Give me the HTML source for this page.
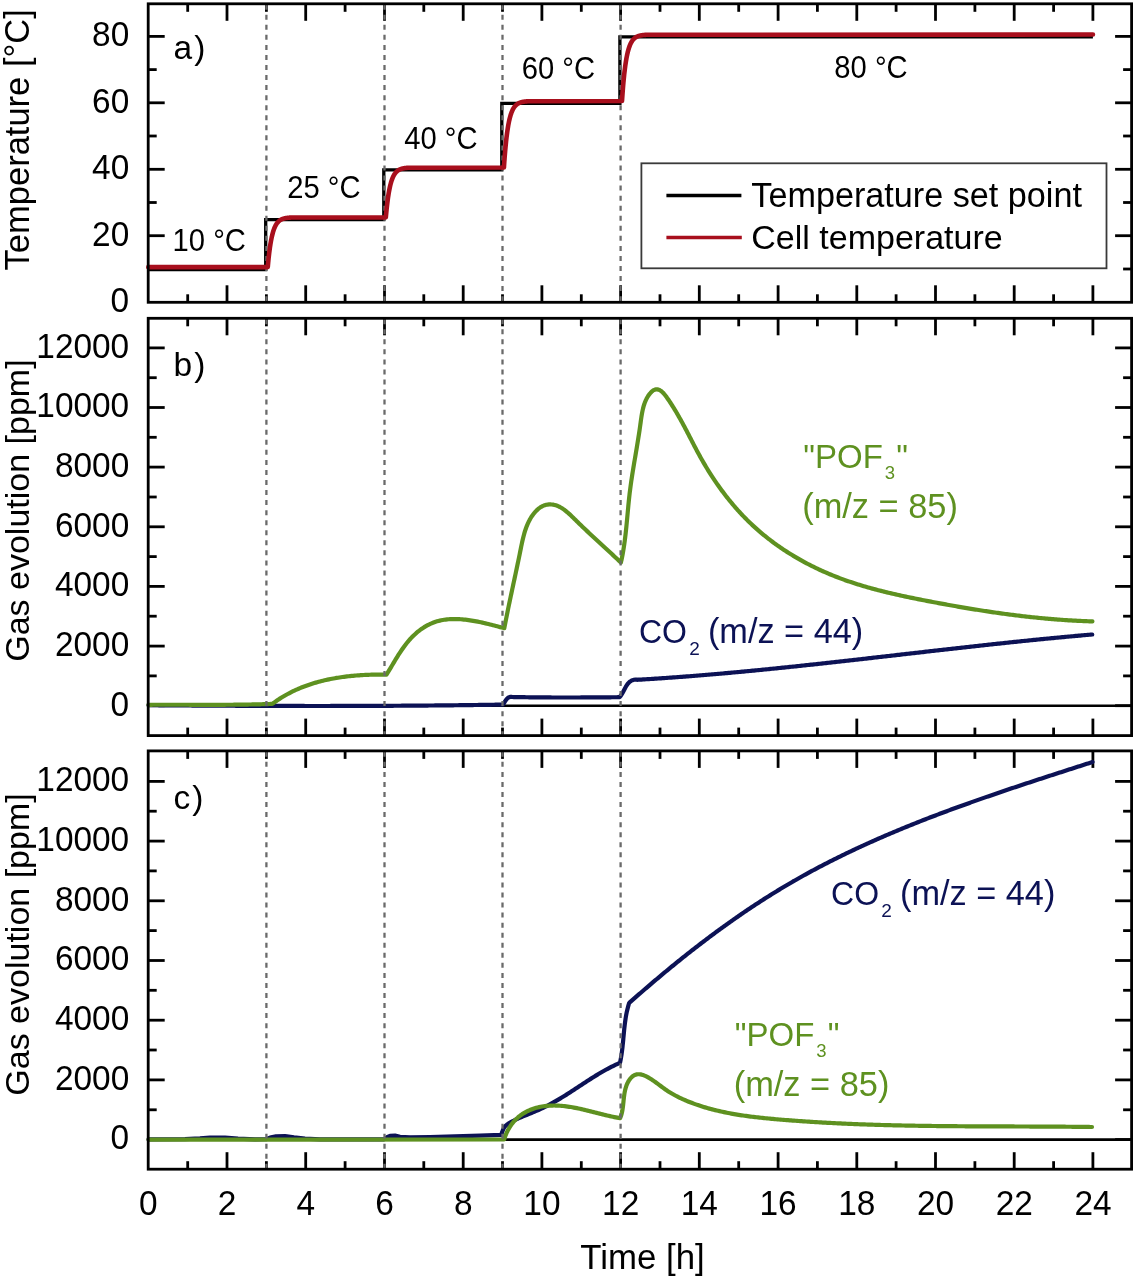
<!DOCTYPE html><html><head><meta charset="utf-8"><style>html,body{margin:0;padding:0;background:#fff}svg{display:block;filter:blur(0.5px)}text{font-family:"Liberation Sans",sans-serif}</style></head><body>
<svg width="1136" height="1280" viewBox="0 0 1136 1280">
<rect width="1136" height="1280" fill="#fff"/>
<line x1="187.7" y1="302.3" x2="187.7" y2="294.3" stroke="#000" stroke-width="2.8"/>
<line x1="187.7" y1="3.8" x2="187.7" y2="11.8" stroke="#000" stroke-width="2.8"/>
<line x1="227.0" y1="302.3" x2="227.0" y2="285.3" stroke="#000" stroke-width="2.8"/>
<line x1="227.0" y1="3.8" x2="227.0" y2="20.8" stroke="#000" stroke-width="2.8"/>
<line x1="266.4" y1="302.3" x2="266.4" y2="294.3" stroke="#000" stroke-width="2.8"/>
<line x1="266.4" y1="3.8" x2="266.4" y2="11.8" stroke="#000" stroke-width="2.8"/>
<line x1="305.7" y1="302.3" x2="305.7" y2="285.3" stroke="#000" stroke-width="2.8"/>
<line x1="305.7" y1="3.8" x2="305.7" y2="20.8" stroke="#000" stroke-width="2.8"/>
<line x1="345.1" y1="302.3" x2="345.1" y2="294.3" stroke="#000" stroke-width="2.8"/>
<line x1="345.1" y1="3.8" x2="345.1" y2="11.8" stroke="#000" stroke-width="2.8"/>
<line x1="384.5" y1="302.3" x2="384.5" y2="285.3" stroke="#000" stroke-width="2.8"/>
<line x1="384.5" y1="3.8" x2="384.5" y2="20.8" stroke="#000" stroke-width="2.8"/>
<line x1="423.8" y1="302.3" x2="423.8" y2="294.3" stroke="#000" stroke-width="2.8"/>
<line x1="423.8" y1="3.8" x2="423.8" y2="11.8" stroke="#000" stroke-width="2.8"/>
<line x1="463.2" y1="302.3" x2="463.2" y2="285.3" stroke="#000" stroke-width="2.8"/>
<line x1="463.2" y1="3.8" x2="463.2" y2="20.8" stroke="#000" stroke-width="2.8"/>
<line x1="502.5" y1="302.3" x2="502.5" y2="294.3" stroke="#000" stroke-width="2.8"/>
<line x1="502.5" y1="3.8" x2="502.5" y2="11.8" stroke="#000" stroke-width="2.8"/>
<line x1="541.9" y1="302.3" x2="541.9" y2="285.3" stroke="#000" stroke-width="2.8"/>
<line x1="541.9" y1="3.8" x2="541.9" y2="20.8" stroke="#000" stroke-width="2.8"/>
<line x1="581.3" y1="302.3" x2="581.3" y2="294.3" stroke="#000" stroke-width="2.8"/>
<line x1="581.3" y1="3.8" x2="581.3" y2="11.8" stroke="#000" stroke-width="2.8"/>
<line x1="620.6" y1="302.3" x2="620.6" y2="285.3" stroke="#000" stroke-width="2.8"/>
<line x1="620.6" y1="3.8" x2="620.6" y2="20.8" stroke="#000" stroke-width="2.8"/>
<line x1="660.0" y1="302.3" x2="660.0" y2="294.3" stroke="#000" stroke-width="2.8"/>
<line x1="660.0" y1="3.8" x2="660.0" y2="11.8" stroke="#000" stroke-width="2.8"/>
<line x1="699.3" y1="302.3" x2="699.3" y2="285.3" stroke="#000" stroke-width="2.8"/>
<line x1="699.3" y1="3.8" x2="699.3" y2="20.8" stroke="#000" stroke-width="2.8"/>
<line x1="738.7" y1="302.3" x2="738.7" y2="294.3" stroke="#000" stroke-width="2.8"/>
<line x1="738.7" y1="3.8" x2="738.7" y2="11.8" stroke="#000" stroke-width="2.8"/>
<line x1="778.1" y1="302.3" x2="778.1" y2="285.3" stroke="#000" stroke-width="2.8"/>
<line x1="778.1" y1="3.8" x2="778.1" y2="20.8" stroke="#000" stroke-width="2.8"/>
<line x1="817.4" y1="302.3" x2="817.4" y2="294.3" stroke="#000" stroke-width="2.8"/>
<line x1="817.4" y1="3.8" x2="817.4" y2="11.8" stroke="#000" stroke-width="2.8"/>
<line x1="856.8" y1="302.3" x2="856.8" y2="285.3" stroke="#000" stroke-width="2.8"/>
<line x1="856.8" y1="3.8" x2="856.8" y2="20.8" stroke="#000" stroke-width="2.8"/>
<line x1="896.1" y1="302.3" x2="896.1" y2="294.3" stroke="#000" stroke-width="2.8"/>
<line x1="896.1" y1="3.8" x2="896.1" y2="11.8" stroke="#000" stroke-width="2.8"/>
<line x1="935.5" y1="302.3" x2="935.5" y2="285.3" stroke="#000" stroke-width="2.8"/>
<line x1="935.5" y1="3.8" x2="935.5" y2="20.8" stroke="#000" stroke-width="2.8"/>
<line x1="974.9" y1="302.3" x2="974.9" y2="294.3" stroke="#000" stroke-width="2.8"/>
<line x1="974.9" y1="3.8" x2="974.9" y2="11.8" stroke="#000" stroke-width="2.8"/>
<line x1="1014.2" y1="302.3" x2="1014.2" y2="285.3" stroke="#000" stroke-width="2.8"/>
<line x1="1014.2" y1="3.8" x2="1014.2" y2="20.8" stroke="#000" stroke-width="2.8"/>
<line x1="1053.6" y1="302.3" x2="1053.6" y2="294.3" stroke="#000" stroke-width="2.8"/>
<line x1="1053.6" y1="3.8" x2="1053.6" y2="11.8" stroke="#000" stroke-width="2.8"/>
<line x1="1092.9" y1="302.3" x2="1092.9" y2="285.3" stroke="#000" stroke-width="2.8"/>
<line x1="1092.9" y1="3.8" x2="1092.9" y2="20.8" stroke="#000" stroke-width="2.8"/>
<line x1="148.2" y1="235.7" x2="164.7" y2="235.7" stroke="#000" stroke-width="2.8"/>
<line x1="1131.6" y1="235.7" x2="1115.1" y2="235.7" stroke="#000" stroke-width="2.8"/>
<line x1="148.2" y1="169.3" x2="164.7" y2="169.3" stroke="#000" stroke-width="2.8"/>
<line x1="1131.6" y1="169.3" x2="1115.1" y2="169.3" stroke="#000" stroke-width="2.8"/>
<line x1="148.2" y1="102.8" x2="164.7" y2="102.8" stroke="#000" stroke-width="2.8"/>
<line x1="1131.6" y1="102.8" x2="1115.1" y2="102.8" stroke="#000" stroke-width="2.8"/>
<line x1="148.2" y1="36.4" x2="164.7" y2="36.4" stroke="#000" stroke-width="2.8"/>
<line x1="1131.6" y1="36.4" x2="1115.1" y2="36.4" stroke="#000" stroke-width="2.8"/>
<line x1="148.2" y1="269.0" x2="156.7" y2="269.0" stroke="#000" stroke-width="2.8"/>
<line x1="1131.6" y1="269.0" x2="1123.1" y2="269.0" stroke="#000" stroke-width="2.8"/>
<line x1="148.2" y1="202.5" x2="156.7" y2="202.5" stroke="#000" stroke-width="2.8"/>
<line x1="1131.6" y1="202.5" x2="1123.1" y2="202.5" stroke="#000" stroke-width="2.8"/>
<line x1="148.2" y1="136.0" x2="156.7" y2="136.0" stroke="#000" stroke-width="2.8"/>
<line x1="1131.6" y1="136.0" x2="1123.1" y2="136.0" stroke="#000" stroke-width="2.8"/>
<line x1="148.2" y1="69.6" x2="156.7" y2="69.6" stroke="#000" stroke-width="2.8"/>
<line x1="1131.6" y1="69.6" x2="1123.1" y2="69.6" stroke="#000" stroke-width="2.8"/>
<line x1="187.7" y1="735.6" x2="187.7" y2="727.6" stroke="#000" stroke-width="2.8"/>
<line x1="187.7" y1="318.3" x2="187.7" y2="326.3" stroke="#000" stroke-width="2.8"/>
<line x1="227.0" y1="735.6" x2="227.0" y2="718.6" stroke="#000" stroke-width="2.8"/>
<line x1="227.0" y1="318.3" x2="227.0" y2="335.3" stroke="#000" stroke-width="2.8"/>
<line x1="266.4" y1="735.6" x2="266.4" y2="727.6" stroke="#000" stroke-width="2.8"/>
<line x1="266.4" y1="318.3" x2="266.4" y2="326.3" stroke="#000" stroke-width="2.8"/>
<line x1="305.7" y1="735.6" x2="305.7" y2="718.6" stroke="#000" stroke-width="2.8"/>
<line x1="305.7" y1="318.3" x2="305.7" y2="335.3" stroke="#000" stroke-width="2.8"/>
<line x1="345.1" y1="735.6" x2="345.1" y2="727.6" stroke="#000" stroke-width="2.8"/>
<line x1="345.1" y1="318.3" x2="345.1" y2="326.3" stroke="#000" stroke-width="2.8"/>
<line x1="384.5" y1="735.6" x2="384.5" y2="718.6" stroke="#000" stroke-width="2.8"/>
<line x1="384.5" y1="318.3" x2="384.5" y2="335.3" stroke="#000" stroke-width="2.8"/>
<line x1="423.8" y1="735.6" x2="423.8" y2="727.6" stroke="#000" stroke-width="2.8"/>
<line x1="423.8" y1="318.3" x2="423.8" y2="326.3" stroke="#000" stroke-width="2.8"/>
<line x1="463.2" y1="735.6" x2="463.2" y2="718.6" stroke="#000" stroke-width="2.8"/>
<line x1="463.2" y1="318.3" x2="463.2" y2="335.3" stroke="#000" stroke-width="2.8"/>
<line x1="502.5" y1="735.6" x2="502.5" y2="727.6" stroke="#000" stroke-width="2.8"/>
<line x1="502.5" y1="318.3" x2="502.5" y2="326.3" stroke="#000" stroke-width="2.8"/>
<line x1="541.9" y1="735.6" x2="541.9" y2="718.6" stroke="#000" stroke-width="2.8"/>
<line x1="541.9" y1="318.3" x2="541.9" y2="335.3" stroke="#000" stroke-width="2.8"/>
<line x1="581.3" y1="735.6" x2="581.3" y2="727.6" stroke="#000" stroke-width="2.8"/>
<line x1="581.3" y1="318.3" x2="581.3" y2="326.3" stroke="#000" stroke-width="2.8"/>
<line x1="620.6" y1="735.6" x2="620.6" y2="718.6" stroke="#000" stroke-width="2.8"/>
<line x1="620.6" y1="318.3" x2="620.6" y2="335.3" stroke="#000" stroke-width="2.8"/>
<line x1="660.0" y1="735.6" x2="660.0" y2="727.6" stroke="#000" stroke-width="2.8"/>
<line x1="660.0" y1="318.3" x2="660.0" y2="326.3" stroke="#000" stroke-width="2.8"/>
<line x1="699.3" y1="735.6" x2="699.3" y2="718.6" stroke="#000" stroke-width="2.8"/>
<line x1="699.3" y1="318.3" x2="699.3" y2="335.3" stroke="#000" stroke-width="2.8"/>
<line x1="738.7" y1="735.6" x2="738.7" y2="727.6" stroke="#000" stroke-width="2.8"/>
<line x1="738.7" y1="318.3" x2="738.7" y2="326.3" stroke="#000" stroke-width="2.8"/>
<line x1="778.1" y1="735.6" x2="778.1" y2="718.6" stroke="#000" stroke-width="2.8"/>
<line x1="778.1" y1="318.3" x2="778.1" y2="335.3" stroke="#000" stroke-width="2.8"/>
<line x1="817.4" y1="735.6" x2="817.4" y2="727.6" stroke="#000" stroke-width="2.8"/>
<line x1="817.4" y1="318.3" x2="817.4" y2="326.3" stroke="#000" stroke-width="2.8"/>
<line x1="856.8" y1="735.6" x2="856.8" y2="718.6" stroke="#000" stroke-width="2.8"/>
<line x1="856.8" y1="318.3" x2="856.8" y2="335.3" stroke="#000" stroke-width="2.8"/>
<line x1="896.1" y1="735.6" x2="896.1" y2="727.6" stroke="#000" stroke-width="2.8"/>
<line x1="896.1" y1="318.3" x2="896.1" y2="326.3" stroke="#000" stroke-width="2.8"/>
<line x1="935.5" y1="735.6" x2="935.5" y2="718.6" stroke="#000" stroke-width="2.8"/>
<line x1="935.5" y1="318.3" x2="935.5" y2="335.3" stroke="#000" stroke-width="2.8"/>
<line x1="974.9" y1="735.6" x2="974.9" y2="727.6" stroke="#000" stroke-width="2.8"/>
<line x1="974.9" y1="318.3" x2="974.9" y2="326.3" stroke="#000" stroke-width="2.8"/>
<line x1="1014.2" y1="735.6" x2="1014.2" y2="718.6" stroke="#000" stroke-width="2.8"/>
<line x1="1014.2" y1="318.3" x2="1014.2" y2="335.3" stroke="#000" stroke-width="2.8"/>
<line x1="1053.6" y1="735.6" x2="1053.6" y2="727.6" stroke="#000" stroke-width="2.8"/>
<line x1="1053.6" y1="318.3" x2="1053.6" y2="326.3" stroke="#000" stroke-width="2.8"/>
<line x1="1092.9" y1="735.6" x2="1092.9" y2="718.6" stroke="#000" stroke-width="2.8"/>
<line x1="1092.9" y1="318.3" x2="1092.9" y2="335.3" stroke="#000" stroke-width="2.8"/>
<line x1="148.2" y1="705.7" x2="164.7" y2="705.7" stroke="#000" stroke-width="2.8"/>
<line x1="1131.6" y1="705.7" x2="1115.1" y2="705.7" stroke="#000" stroke-width="2.8"/>
<line x1="148.2" y1="646.1" x2="164.7" y2="646.1" stroke="#000" stroke-width="2.8"/>
<line x1="1131.6" y1="646.1" x2="1115.1" y2="646.1" stroke="#000" stroke-width="2.8"/>
<line x1="148.2" y1="586.4" x2="164.7" y2="586.4" stroke="#000" stroke-width="2.8"/>
<line x1="1131.6" y1="586.4" x2="1115.1" y2="586.4" stroke="#000" stroke-width="2.8"/>
<line x1="148.2" y1="526.8" x2="164.7" y2="526.8" stroke="#000" stroke-width="2.8"/>
<line x1="1131.6" y1="526.8" x2="1115.1" y2="526.8" stroke="#000" stroke-width="2.8"/>
<line x1="148.2" y1="467.1" x2="164.7" y2="467.1" stroke="#000" stroke-width="2.8"/>
<line x1="1131.6" y1="467.1" x2="1115.1" y2="467.1" stroke="#000" stroke-width="2.8"/>
<line x1="148.2" y1="407.5" x2="164.7" y2="407.5" stroke="#000" stroke-width="2.8"/>
<line x1="1131.6" y1="407.5" x2="1115.1" y2="407.5" stroke="#000" stroke-width="2.8"/>
<line x1="148.2" y1="347.9" x2="164.7" y2="347.9" stroke="#000" stroke-width="2.8"/>
<line x1="1131.6" y1="347.9" x2="1115.1" y2="347.9" stroke="#000" stroke-width="2.8"/>
<line x1="148.2" y1="675.9" x2="156.7" y2="675.9" stroke="#000" stroke-width="2.8"/>
<line x1="1131.6" y1="675.9" x2="1123.1" y2="675.9" stroke="#000" stroke-width="2.8"/>
<line x1="148.2" y1="616.2" x2="156.7" y2="616.2" stroke="#000" stroke-width="2.8"/>
<line x1="1131.6" y1="616.2" x2="1123.1" y2="616.2" stroke="#000" stroke-width="2.8"/>
<line x1="148.2" y1="556.6" x2="156.7" y2="556.6" stroke="#000" stroke-width="2.8"/>
<line x1="1131.6" y1="556.6" x2="1123.1" y2="556.6" stroke="#000" stroke-width="2.8"/>
<line x1="148.2" y1="497.0" x2="156.7" y2="497.0" stroke="#000" stroke-width="2.8"/>
<line x1="1131.6" y1="497.0" x2="1123.1" y2="497.0" stroke="#000" stroke-width="2.8"/>
<line x1="148.2" y1="437.3" x2="156.7" y2="437.3" stroke="#000" stroke-width="2.8"/>
<line x1="1131.6" y1="437.3" x2="1123.1" y2="437.3" stroke="#000" stroke-width="2.8"/>
<line x1="148.2" y1="377.7" x2="156.7" y2="377.7" stroke="#000" stroke-width="2.8"/>
<line x1="1131.6" y1="377.7" x2="1123.1" y2="377.7" stroke="#000" stroke-width="2.8"/>
<line x1="187.7" y1="1169.2" x2="187.7" y2="1161.2" stroke="#000" stroke-width="2.8"/>
<line x1="187.7" y1="750.9" x2="187.7" y2="758.9" stroke="#000" stroke-width="2.8"/>
<line x1="227.0" y1="1169.2" x2="227.0" y2="1152.2" stroke="#000" stroke-width="2.8"/>
<line x1="227.0" y1="750.9" x2="227.0" y2="767.9" stroke="#000" stroke-width="2.8"/>
<line x1="266.4" y1="1169.2" x2="266.4" y2="1161.2" stroke="#000" stroke-width="2.8"/>
<line x1="266.4" y1="750.9" x2="266.4" y2="758.9" stroke="#000" stroke-width="2.8"/>
<line x1="305.7" y1="1169.2" x2="305.7" y2="1152.2" stroke="#000" stroke-width="2.8"/>
<line x1="305.7" y1="750.9" x2="305.7" y2="767.9" stroke="#000" stroke-width="2.8"/>
<line x1="345.1" y1="1169.2" x2="345.1" y2="1161.2" stroke="#000" stroke-width="2.8"/>
<line x1="345.1" y1="750.9" x2="345.1" y2="758.9" stroke="#000" stroke-width="2.8"/>
<line x1="384.5" y1="1169.2" x2="384.5" y2="1152.2" stroke="#000" stroke-width="2.8"/>
<line x1="384.5" y1="750.9" x2="384.5" y2="767.9" stroke="#000" stroke-width="2.8"/>
<line x1="423.8" y1="1169.2" x2="423.8" y2="1161.2" stroke="#000" stroke-width="2.8"/>
<line x1="423.8" y1="750.9" x2="423.8" y2="758.9" stroke="#000" stroke-width="2.8"/>
<line x1="463.2" y1="1169.2" x2="463.2" y2="1152.2" stroke="#000" stroke-width="2.8"/>
<line x1="463.2" y1="750.9" x2="463.2" y2="767.9" stroke="#000" stroke-width="2.8"/>
<line x1="502.5" y1="1169.2" x2="502.5" y2="1161.2" stroke="#000" stroke-width="2.8"/>
<line x1="502.5" y1="750.9" x2="502.5" y2="758.9" stroke="#000" stroke-width="2.8"/>
<line x1="541.9" y1="1169.2" x2="541.9" y2="1152.2" stroke="#000" stroke-width="2.8"/>
<line x1="541.9" y1="750.9" x2="541.9" y2="767.9" stroke="#000" stroke-width="2.8"/>
<line x1="581.3" y1="1169.2" x2="581.3" y2="1161.2" stroke="#000" stroke-width="2.8"/>
<line x1="581.3" y1="750.9" x2="581.3" y2="758.9" stroke="#000" stroke-width="2.8"/>
<line x1="620.6" y1="1169.2" x2="620.6" y2="1152.2" stroke="#000" stroke-width="2.8"/>
<line x1="620.6" y1="750.9" x2="620.6" y2="767.9" stroke="#000" stroke-width="2.8"/>
<line x1="660.0" y1="1169.2" x2="660.0" y2="1161.2" stroke="#000" stroke-width="2.8"/>
<line x1="660.0" y1="750.9" x2="660.0" y2="758.9" stroke="#000" stroke-width="2.8"/>
<line x1="699.3" y1="1169.2" x2="699.3" y2="1152.2" stroke="#000" stroke-width="2.8"/>
<line x1="699.3" y1="750.9" x2="699.3" y2="767.9" stroke="#000" stroke-width="2.8"/>
<line x1="738.7" y1="1169.2" x2="738.7" y2="1161.2" stroke="#000" stroke-width="2.8"/>
<line x1="738.7" y1="750.9" x2="738.7" y2="758.9" stroke="#000" stroke-width="2.8"/>
<line x1="778.1" y1="1169.2" x2="778.1" y2="1152.2" stroke="#000" stroke-width="2.8"/>
<line x1="778.1" y1="750.9" x2="778.1" y2="767.9" stroke="#000" stroke-width="2.8"/>
<line x1="817.4" y1="1169.2" x2="817.4" y2="1161.2" stroke="#000" stroke-width="2.8"/>
<line x1="817.4" y1="750.9" x2="817.4" y2="758.9" stroke="#000" stroke-width="2.8"/>
<line x1="856.8" y1="1169.2" x2="856.8" y2="1152.2" stroke="#000" stroke-width="2.8"/>
<line x1="856.8" y1="750.9" x2="856.8" y2="767.9" stroke="#000" stroke-width="2.8"/>
<line x1="896.1" y1="1169.2" x2="896.1" y2="1161.2" stroke="#000" stroke-width="2.8"/>
<line x1="896.1" y1="750.9" x2="896.1" y2="758.9" stroke="#000" stroke-width="2.8"/>
<line x1="935.5" y1="1169.2" x2="935.5" y2="1152.2" stroke="#000" stroke-width="2.8"/>
<line x1="935.5" y1="750.9" x2="935.5" y2="767.9" stroke="#000" stroke-width="2.8"/>
<line x1="974.9" y1="1169.2" x2="974.9" y2="1161.2" stroke="#000" stroke-width="2.8"/>
<line x1="974.9" y1="750.9" x2="974.9" y2="758.9" stroke="#000" stroke-width="2.8"/>
<line x1="1014.2" y1="1169.2" x2="1014.2" y2="1152.2" stroke="#000" stroke-width="2.8"/>
<line x1="1014.2" y1="750.9" x2="1014.2" y2="767.9" stroke="#000" stroke-width="2.8"/>
<line x1="1053.6" y1="1169.2" x2="1053.6" y2="1161.2" stroke="#000" stroke-width="2.8"/>
<line x1="1053.6" y1="750.9" x2="1053.6" y2="758.9" stroke="#000" stroke-width="2.8"/>
<line x1="1092.9" y1="1169.2" x2="1092.9" y2="1152.2" stroke="#000" stroke-width="2.8"/>
<line x1="1092.9" y1="750.9" x2="1092.9" y2="767.9" stroke="#000" stroke-width="2.8"/>
<line x1="148.2" y1="1139.6" x2="164.7" y2="1139.6" stroke="#000" stroke-width="2.8"/>
<line x1="1131.6" y1="1139.6" x2="1115.1" y2="1139.6" stroke="#000" stroke-width="2.8"/>
<line x1="148.2" y1="1079.9" x2="164.7" y2="1079.9" stroke="#000" stroke-width="2.8"/>
<line x1="1131.6" y1="1079.9" x2="1115.1" y2="1079.9" stroke="#000" stroke-width="2.8"/>
<line x1="148.2" y1="1020.2" x2="164.7" y2="1020.2" stroke="#000" stroke-width="2.8"/>
<line x1="1131.6" y1="1020.2" x2="1115.1" y2="1020.2" stroke="#000" stroke-width="2.8"/>
<line x1="148.2" y1="960.5" x2="164.7" y2="960.5" stroke="#000" stroke-width="2.8"/>
<line x1="1131.6" y1="960.5" x2="1115.1" y2="960.5" stroke="#000" stroke-width="2.8"/>
<line x1="148.2" y1="900.8" x2="164.7" y2="900.8" stroke="#000" stroke-width="2.8"/>
<line x1="1131.6" y1="900.8" x2="1115.1" y2="900.8" stroke="#000" stroke-width="2.8"/>
<line x1="148.2" y1="841.1" x2="164.7" y2="841.1" stroke="#000" stroke-width="2.8"/>
<line x1="1131.6" y1="841.1" x2="1115.1" y2="841.1" stroke="#000" stroke-width="2.8"/>
<line x1="148.2" y1="781.4" x2="164.7" y2="781.4" stroke="#000" stroke-width="2.8"/>
<line x1="1131.6" y1="781.4" x2="1115.1" y2="781.4" stroke="#000" stroke-width="2.8"/>
<line x1="148.2" y1="1109.8" x2="156.7" y2="1109.8" stroke="#000" stroke-width="2.8"/>
<line x1="1131.6" y1="1109.8" x2="1123.1" y2="1109.8" stroke="#000" stroke-width="2.8"/>
<line x1="148.2" y1="1050.0" x2="156.7" y2="1050.0" stroke="#000" stroke-width="2.8"/>
<line x1="1131.6" y1="1050.0" x2="1123.1" y2="1050.0" stroke="#000" stroke-width="2.8"/>
<line x1="148.2" y1="990.3" x2="156.7" y2="990.3" stroke="#000" stroke-width="2.8"/>
<line x1="1131.6" y1="990.3" x2="1123.1" y2="990.3" stroke="#000" stroke-width="2.8"/>
<line x1="148.2" y1="930.6" x2="156.7" y2="930.6" stroke="#000" stroke-width="2.8"/>
<line x1="1131.6" y1="930.6" x2="1123.1" y2="930.6" stroke="#000" stroke-width="2.8"/>
<line x1="148.2" y1="870.9" x2="156.7" y2="870.9" stroke="#000" stroke-width="2.8"/>
<line x1="1131.6" y1="870.9" x2="1123.1" y2="870.9" stroke="#000" stroke-width="2.8"/>
<line x1="148.2" y1="811.2" x2="156.7" y2="811.2" stroke="#000" stroke-width="2.8"/>
<line x1="1131.6" y1="811.2" x2="1123.1" y2="811.2" stroke="#000" stroke-width="2.8"/>
<line x1="148.2" y1="705.7" x2="1131.6" y2="705.7" stroke="#000" stroke-width="2.6"/>
<line x1="148.2" y1="1139.6" x2="1131.6" y2="1139.6" stroke="#000" stroke-width="2.6"/>
<text transform="translate(129.20,312.00) scale(1,1.04)" font-size="33.4" text-anchor="end">0</text>
<text transform="translate(129.20,245.54) scale(1,1.04)" font-size="33.4" text-anchor="end">20</text>
<text transform="translate(129.20,179.08) scale(1,1.04)" font-size="33.4" text-anchor="end">40</text>
<text transform="translate(129.20,112.62) scale(1,1.04)" font-size="33.4" text-anchor="end">60</text>
<text transform="translate(129.20,46.16) scale(1,1.04)" font-size="33.4" text-anchor="end">80</text>
<text transform="translate(129.20,715.50) scale(1,1.04)" font-size="33.4" text-anchor="end">0</text>
<text transform="translate(129.20,655.86) scale(1,1.04)" font-size="33.4" text-anchor="end">2000</text>
<text transform="translate(129.20,596.22) scale(1,1.04)" font-size="33.4" text-anchor="end">4000</text>
<text transform="translate(129.20,536.58) scale(1,1.04)" font-size="33.4" text-anchor="end">6000</text>
<text transform="translate(129.20,476.94) scale(1,1.04)" font-size="33.4" text-anchor="end">8000</text>
<text transform="translate(129.20,417.30) scale(1,1.04)" font-size="33.4" text-anchor="end">10000</text>
<text transform="translate(129.20,357.66) scale(1,1.04)" font-size="33.4" text-anchor="end">12000</text>
<text transform="translate(129.20,1149.40) scale(1,1.04)" font-size="33.4" text-anchor="end">0</text>
<text transform="translate(129.20,1089.70) scale(1,1.04)" font-size="33.4" text-anchor="end">2000</text>
<text transform="translate(129.20,1030.00) scale(1,1.04)" font-size="33.4" text-anchor="end">4000</text>
<text transform="translate(129.20,970.30) scale(1,1.04)" font-size="33.4" text-anchor="end">6000</text>
<text transform="translate(129.20,910.60) scale(1,1.04)" font-size="33.4" text-anchor="end">8000</text>
<text transform="translate(129.20,850.90) scale(1,1.04)" font-size="33.4" text-anchor="end">10000</text>
<text transform="translate(129.20,791.20) scale(1,1.04)" font-size="33.4" text-anchor="end">12000</text>
<text transform="translate(148.30,1214.80) scale(1,1.04)" font-size="33.4" text-anchor="middle">0</text>
<text transform="translate(227.02,1214.80) scale(1,1.04)" font-size="33.4" text-anchor="middle">2</text>
<text transform="translate(305.74,1214.80) scale(1,1.04)" font-size="33.4" text-anchor="middle">4</text>
<text transform="translate(384.46,1214.80) scale(1,1.04)" font-size="33.4" text-anchor="middle">6</text>
<text transform="translate(463.18,1214.80) scale(1,1.04)" font-size="33.4" text-anchor="middle">8</text>
<text transform="translate(541.90,1214.80) scale(1,1.04)" font-size="33.4" text-anchor="middle">10</text>
<text transform="translate(620.62,1214.80) scale(1,1.04)" font-size="33.4" text-anchor="middle">12</text>
<text transform="translate(699.34,1214.80) scale(1,1.04)" font-size="33.4" text-anchor="middle">14</text>
<text transform="translate(778.06,1214.80) scale(1,1.04)" font-size="33.4" text-anchor="middle">16</text>
<text transform="translate(856.78,1214.80) scale(1,1.04)" font-size="33.4" text-anchor="middle">18</text>
<text transform="translate(935.50,1214.80) scale(1,1.04)" font-size="33.4" text-anchor="middle">20</text>
<text transform="translate(1014.22,1214.80) scale(1,1.04)" font-size="33.4" text-anchor="middle">22</text>
<text transform="translate(1092.94,1214.80) scale(1,1.04)" font-size="33.4" text-anchor="middle">24</text>
<text x="642.50" y="1268.50" font-size="34.8" text-anchor="middle">Time [h]</text>
<text transform="translate(28.8,139.8) rotate(-90)" font-size="34.5" text-anchor="middle">Temperature [°C]</text>
<text transform="translate(28.8,510.6) rotate(-90)" font-size="34" text-anchor="middle">Gas evolution [ppm]</text>
<text transform="translate(28.8,944.5) rotate(-90)" font-size="34" text-anchor="middle">Gas evolution [ppm]</text>
<text x="173.60" y="59.30" font-size="33.5">a<tspan dx="2.0">)</tspan></text>
<text x="173.60" y="375.80" font-size="33.5">b<tspan dx="2.0">)</tspan></text>
<text x="173.60" y="808.80" font-size="33.5">c<tspan dx="2.0">)</tspan></text>
<path d="M148.2,269.5 H265.7 V219.6 H383.8 V169.8 H501.8 V103.3 H619.9 V36.9 H1092.9" fill="none" stroke="#000" stroke-width="3.3" stroke-linejoin="miter"/>
<line x1="266.4" y1="3.8" x2="266.4" y2="302.3" stroke="#6a6a6a" stroke-width="2.3" stroke-dasharray="5 5.05" stroke-dashoffset="-0.9"/>
<line x1="384.5" y1="3.8" x2="384.5" y2="302.3" stroke="#6a6a6a" stroke-width="2.3" stroke-dasharray="5 5.05" stroke-dashoffset="-0.9"/>
<line x1="502.5" y1="3.8" x2="502.5" y2="302.3" stroke="#6a6a6a" stroke-width="2.3" stroke-dasharray="5 5.05" stroke-dashoffset="-0.9"/>
<line x1="620.6" y1="3.8" x2="620.6" y2="302.3" stroke="#6a6a6a" stroke-width="2.3" stroke-dasharray="5 5.05" stroke-dashoffset="-0.9"/>
<path d="M148.30,267.17 L267.76,267.17 L267.95,264.96 L268.15,262.84 L268.35,260.82 L268.54,258.88 L268.74,257.04 L268.94,255.27 L269.14,253.59 L269.33,251.97 L269.53,250.43 L269.73,248.96 L269.92,247.56 L270.12,246.21 L270.32,244.93 L270.51,243.70 L270.71,242.53 L270.91,241.41 L271.10,240.34 L271.30,239.32 L271.50,238.34 L271.69,237.41 L271.89,236.51 L272.09,235.66 L272.28,234.85 L272.48,234.07 L272.68,233.32 L272.87,232.61 L273.07,231.93 L273.27,231.28 L273.46,230.66 L273.66,230.07 L273.86,229.51 L274.06,228.96 L274.25,228.45 L274.45,227.95 L274.65,227.48 L274.84,227.03 L275.04,226.60 L275.24,226.19 L275.43,225.79 L275.63,225.42 L275.83,225.06 L276.02,224.71 L276.22,224.38 L276.42,224.07 L276.61,223.77 L276.81,223.48 L277.01,223.21 L277.20,222.95 L277.40,222.70 L277.60,222.46 L277.79,222.23 L277.99,222.01 L278.19,221.81 L278.38,221.61 L278.58,221.42 L278.78,221.23 L278.98,221.06 L279.17,220.89 L279.37,220.74 L279.57,220.58 L279.76,220.44 L279.96,220.30 L280.16,220.17 L280.35,220.04 L280.55,219.92 L280.75,219.81 L280.94,219.70 L281.14,219.59 L281.34,219.49 L281.53,219.39 L281.73,219.30 L281.93,219.21 L282.12,219.13 L282.32,219.05 L282.52,218.97 L282.71,218.90 L282.91,218.83 L283.11,218.76 L283.30,218.70 L283.50,218.64 L283.70,218.58 L283.90,218.52 L284.09,218.47 L284.29,218.42 L284.49,218.37 L284.68,218.32 L284.88,218.28 L285.08,218.24 L285.27,218.20 L285.47,218.16 L285.67,218.12 L285.86,218.09 L286.06,218.05 L286.26,218.02 L286.45,217.99 L286.65,217.96 L286.85,217.93 L287.04,217.90 L287.24,217.88 L287.44,217.85 L287.63,217.83 L287.83,217.81 L288.03,217.79 L288.22,217.77 L288.42,217.75 L288.62,217.73 L288.82,217.71 L289.01,217.69 L289.21,217.68 L289.41,217.66 L289.60,217.65 L289.80,217.63 L290.00,217.62 L290.19,217.61 L290.39,217.59 L290.59,217.58 L290.78,217.57 L290.98,217.56 L291.18,217.55 L385.84,217.33 L386.03,215.11 L386.23,212.99 L386.43,210.97 L386.62,209.04 L386.82,207.19 L387.02,205.43 L387.22,203.74 L387.41,202.13 L387.61,200.59 L387.81,199.12 L388.00,197.71 L388.20,196.37 L388.40,195.09 L388.59,193.86 L388.79,192.69 L388.99,191.57 L389.18,190.50 L389.38,189.47 L389.58,188.50 L389.77,187.56 L389.97,186.67 L390.17,185.82 L390.36,185.00 L390.56,184.22 L390.76,183.48 L390.95,182.77 L391.15,182.09 L391.35,181.44 L391.54,180.82 L391.74,180.23 L391.94,179.66 L392.14,179.12 L392.33,178.60 L392.53,178.11 L392.73,177.64 L392.92,177.18 L393.12,176.75 L393.32,176.34 L393.51,175.95 L393.71,175.57 L393.91,175.21 L394.10,174.87 L394.30,174.54 L394.50,174.23 L394.69,173.93 L394.89,173.64 L395.09,173.37 L395.28,173.10 L395.48,172.85 L395.68,172.62 L395.87,172.39 L396.07,172.17 L396.27,171.96 L396.46,171.76 L396.66,171.57 L396.86,171.39 L397.06,171.22 L397.25,171.05 L397.45,170.89 L397.65,170.74 L397.84,170.59 L398.04,170.46 L398.24,170.32 L398.43,170.20 L398.63,170.08 L398.83,169.96 L399.02,169.85 L399.22,169.75 L399.42,169.65 L399.61,169.55 L399.81,169.46 L400.01,169.37 L400.20,169.29 L400.40,169.21 L400.60,169.13 L400.79,169.06 L400.99,168.99 L401.19,168.92 L401.38,168.85 L401.58,168.79 L401.78,168.73 L401.98,168.68 L402.17,168.63 L402.37,168.57 L402.57,168.53 L402.76,168.48 L402.96,168.44 L403.16,168.39 L403.35,168.35 L403.55,168.31 L403.75,168.28 L403.94,168.24 L404.14,168.21 L404.34,168.18 L404.53,168.14 L404.73,168.11 L404.93,168.09 L405.12,168.06 L405.32,168.03 L405.52,168.01 L405.71,167.99 L405.91,167.96 L406.11,167.94 L406.30,167.92 L406.50,167.90 L406.70,167.88 L406.90,167.86 L407.09,167.85 L407.29,167.83 L407.49,167.82 L407.68,167.80 L407.88,167.79 L408.08,167.77 L408.27,167.76 L408.47,167.75 L408.67,167.74 L408.86,167.72 L409.06,167.71 L409.26,167.70 L503.92,167.48 L504.11,164.53 L504.31,161.70 L504.51,159.01 L504.70,156.43 L504.90,153.97 L505.10,151.62 L505.30,149.37 L505.49,147.22 L505.69,145.17 L505.89,143.20 L506.08,141.33 L506.28,139.54 L506.48,137.83 L506.67,136.19 L506.87,134.63 L507.07,133.14 L507.26,131.71 L507.46,130.34 L507.66,129.04 L507.85,127.80 L508.05,126.61 L508.25,125.47 L508.44,124.38 L508.64,123.34 L508.84,122.35 L509.03,121.40 L509.23,120.50 L509.43,119.63 L509.62,118.81 L509.82,118.02 L510.02,117.26 L510.22,116.54 L510.41,115.85 L510.61,115.19 L510.81,114.56 L511.00,113.96 L511.20,113.38 L511.40,112.83 L511.59,112.31 L511.79,111.81 L511.99,111.33 L512.18,110.87 L512.38,110.43 L512.58,110.01 L512.77,109.61 L512.97,109.23 L513.17,108.87 L513.36,108.52 L513.56,108.19 L513.76,107.87 L513.95,107.56 L514.15,107.27 L514.35,106.99 L514.54,106.73 L514.74,106.48 L514.94,106.23 L515.14,106.00 L515.33,105.78 L515.53,105.57 L515.73,105.37 L515.92,105.17 L516.12,104.99 L516.32,104.81 L516.51,104.64 L516.71,104.48 L516.91,104.33 L517.10,104.18 L517.30,104.04 L517.50,103.91 L517.69,103.78 L517.89,103.66 L518.09,103.54 L518.28,103.43 L518.48,103.32 L518.68,103.22 L518.87,103.12 L519.07,103.03 L519.27,102.94 L519.46,102.85 L519.66,102.77 L519.86,102.69 L520.06,102.62 L520.25,102.55 L520.45,102.48 L520.65,102.42 L520.84,102.35 L521.04,102.29 L521.24,102.24 L521.43,102.18 L521.63,102.13 L521.83,102.08 L522.02,102.03 L522.22,101.99 L522.42,101.95 L522.61,101.91 L522.81,101.87 L523.01,101.83 L523.20,101.79 L523.40,101.76 L523.60,101.73 L523.79,101.69 L523.99,101.66 L524.19,101.64 L524.38,101.61 L524.58,101.58 L524.78,101.56 L524.98,101.53 L525.17,101.51 L525.37,101.49 L525.57,101.47 L525.76,101.45 L525.96,101.43 L526.16,101.41 L526.35,101.39 L526.55,101.38 L526.75,101.36 L526.94,101.35 L527.14,101.33 L527.34,101.32 L527.53,101.30 L527.73,101.29 L527.93,101.28 L528.12,101.27 L528.32,101.26 L528.52,101.25 L528.71,101.24 L622.00,101.02 L622.19,98.07 L622.39,95.24 L622.59,92.55 L622.78,89.97 L622.98,87.51 L623.18,85.16 L623.38,82.91 L623.57,80.76 L623.77,78.71 L623.97,76.74 L624.16,74.87 L624.36,73.08 L624.56,71.37 L624.75,69.73 L624.95,68.17 L625.15,66.68 L625.34,65.25 L625.54,63.88 L625.74,62.58 L625.93,61.34 L626.13,60.15 L626.33,59.01 L626.52,57.92 L626.72,56.88 L626.92,55.89 L627.11,54.94 L627.31,54.04 L627.51,53.17 L627.70,52.35 L627.90,51.56 L628.10,50.80 L628.30,50.08 L628.49,49.39 L628.69,48.73 L628.89,48.10 L629.08,47.50 L629.28,46.92 L629.48,46.37 L629.67,45.85 L629.87,45.35 L630.07,44.87 L630.26,44.41 L630.46,43.97 L630.66,43.55 L630.85,43.15 L631.05,42.77 L631.25,42.41 L631.44,42.06 L631.64,41.73 L631.84,41.41 L632.03,41.10 L632.23,40.81 L632.43,40.53 L632.62,40.27 L632.82,40.02 L633.02,39.77 L633.22,39.54 L633.41,39.32 L633.61,39.11 L633.81,38.91 L634.00,38.71 L634.20,38.53 L634.40,38.35 L634.59,38.18 L634.79,38.02 L634.99,37.87 L635.18,37.72 L635.38,37.58 L635.58,37.45 L635.77,37.32 L635.97,37.20 L636.17,37.08 L636.36,36.97 L636.56,36.86 L636.76,36.76 L636.95,36.66 L637.15,36.57 L637.35,36.48 L637.54,36.39 L637.74,36.31 L637.94,36.23 L638.14,36.16 L638.33,36.09 L638.53,36.02 L638.73,35.96 L638.92,35.89 L639.12,35.83 L639.32,35.78 L639.51,35.72 L639.71,35.67 L639.91,35.62 L640.10,35.57 L640.30,35.53 L640.50,35.49 L640.69,35.45 L640.89,35.41 L641.09,35.37 L641.28,35.33 L641.48,35.30 L641.68,35.27 L641.87,35.23 L642.07,35.20 L642.27,35.18 L642.46,35.15 L642.66,35.12 L642.86,35.10 L643.06,35.07 L643.25,35.05 L643.45,35.03 L643.65,35.01 L643.84,34.99 L644.04,34.97 L644.24,34.95 L644.43,34.93 L644.63,34.92 L644.83,34.90 L645.02,34.89 L645.22,34.87 L645.42,34.86 L645.61,34.84 L645.81,34.83 L646.01,34.82 L646.20,34.81 L646.40,34.80 L646.60,34.79 L646.79,34.78 L1092.94,34.56" fill="none" stroke="#a80f1d" stroke-width="4.6" stroke-linejoin="round" stroke-linecap="round"/>
<path d="M148.50,705.20 L150.01,705.21 L151.52,705.22 L153.03,705.24 L154.53,705.25 L156.04,705.26 L157.55,705.27 L159.06,705.28 L160.57,705.30 L162.08,705.31 L163.59,705.32 L165.09,705.33 L166.60,705.34 L168.11,705.35 L169.62,705.37 L171.13,705.38 L172.64,705.39 L174.15,705.40 L175.65,705.41 L177.16,705.42 L178.67,705.43 L180.18,705.44 L181.69,705.45 L183.20,705.46 L184.71,705.47 L186.21,705.48 L187.72,705.49 L189.23,705.51 L190.74,705.52 L192.25,705.53 L193.76,705.54 L195.26,705.55 L196.77,705.56 L198.28,705.56 L199.79,705.57 L201.30,705.58 L202.81,705.59 L204.32,705.60 L205.82,705.61 L207.33,705.62 L208.84,705.63 L210.35,705.64 L211.86,705.65 L213.37,705.66 L214.87,705.67 L216.38,705.67 L217.89,705.68 L219.40,705.69 L220.91,705.70 L222.42,705.71 L223.93,705.72 L225.43,705.72 L226.94,705.73 L228.45,705.74 L229.96,705.75 L231.47,705.75 L232.98,705.76 L234.48,705.77 L235.99,705.78 L237.50,705.78 L239.01,705.79 L240.52,705.80 L242.03,705.80 L243.53,705.81 L245.04,705.82 L246.55,705.82 L248.06,705.83 L249.57,705.84 L251.08,705.84 L252.59,705.85 L254.09,705.85 L255.60,705.86 L257.11,705.86 L258.62,705.87 L260.13,705.88 L261.64,705.88 L263.14,705.89 L264.65,705.89 L266.16,705.90 L267.67,705.90 L269.18,705.91 L270.69,705.91 L272.19,705.91 L273.70,705.92 L275.21,705.92 L276.72,705.93 L278.23,705.93 L279.74,705.93 L281.24,705.94 L282.75,705.94 L284.26,705.94 L285.77,705.95 L287.28,705.95 L288.79,705.95 L290.29,705.96 L291.80,705.96 L293.31,705.96 L294.82,705.96 L296.33,705.97 L297.84,705.97 L299.35,705.97 L300.85,705.97 L302.36,705.97 L303.87,705.97 L305.38,705.98 L306.89,705.98 L308.40,705.98 L309.90,705.98 L311.41,705.98 L312.92,705.98 L314.43,705.98 L315.94,705.98 L317.45,705.98 L318.95,705.98 L320.46,705.98 L321.97,705.98 L323.48,705.98 L324.99,705.98 L326.50,705.98 L328.00,705.98 L329.51,705.98 L331.02,705.97 L332.53,705.97 L334.04,705.97 L335.55,705.97 L337.05,705.97 L338.56,705.97 L340.07,705.96 L341.58,705.96 L343.09,705.96 L344.60,705.96 L346.11,705.95 L347.61,705.95 L349.12,705.95 L350.63,705.94 L352.14,705.94 L353.65,705.94 L355.16,705.93 L356.66,705.93 L358.17,705.92 L359.68,705.92 L361.19,705.91 L362.70,705.91 L364.21,705.90 L365.71,705.90 L367.22,705.89 L368.73,705.89 L370.24,705.88 L371.75,705.88 L373.26,705.87 L374.77,705.87 L376.27,705.86 L377.78,705.85 L379.29,705.85 L380.80,705.84 L382.31,705.83 L383.82,705.82 L385.32,705.82 L386.83,705.81 L388.34,705.80 L389.85,705.79 L391.36,705.79 L392.87,705.78 L394.38,705.77 L395.88,705.76 L397.39,705.75 L398.90,705.74 L400.41,705.73 L401.92,705.72 L403.43,705.71 L404.94,705.70 L406.44,705.69 L407.95,705.68 L409.46,705.67 L410.97,705.66 L412.48,705.65 L413.99,705.64 L415.50,705.63 L417.00,705.62 L418.51,705.60 L420.02,705.59 L421.53,705.58 L423.04,705.57 L424.55,705.56 L426.06,705.54 L427.56,705.53 L429.07,705.52 L430.58,705.50 L432.09,705.49 L433.60,705.48 L435.11,705.46 L436.62,705.45 L438.12,705.43 L439.63,705.42 L441.14,705.40 L442.65,705.39 L444.16,705.37 L445.67,705.36 L447.18,705.34 L448.68,705.33 L450.19,705.31 L451.70,705.29 L453.21,705.28 L454.72,705.26 L456.23,705.24 L457.74,705.23 L459.25,705.21 L460.75,705.19 L462.26,705.17 L463.77,705.15 L465.28,705.14 L466.79,705.12 L468.30,705.10 L469.81,705.08 L471.32,705.06 L472.82,705.04 L474.33,705.02 L475.84,705.00 L477.35,704.98 L478.86,704.96 L480.37,704.94 L481.88,704.92 L483.39,704.90 L484.89,704.88 L486.40,704.85 L487.91,704.83 L489.42,704.81 L490.93,704.79 L492.44,704.76 L493.95,704.74 L495.46,704.72 L496.96,704.70 L498.47,704.67 L499.98,704.65 L501.49,704.62 L503.00,704.60 L503.00,704.60 L503.38,704.08 L503.75,703.53 L504.11,702.96 L504.47,702.37 L504.83,701.77 L505.20,701.18 L505.57,700.60 L505.96,700.03 L506.37,699.48 L506.79,698.97 L507.25,698.49 L507.73,698.06 L508.25,697.69 L508.80,697.37 L509.40,697.13 L510.04,696.96 L510.74,696.88 L511.49,696.89 L512.30,697.00 L512.30,697.00 L513.83,697.03 L515.37,697.06 L516.90,697.09 L518.43,697.12 L519.96,697.14 L521.50,697.17 L523.03,697.20 L524.56,697.22 L526.09,697.24 L527.63,697.26 L529.16,697.28 L530.69,697.30 L532.23,697.32 L533.76,697.34 L535.29,697.35 L536.82,697.37 L538.36,697.38 L539.89,697.40 L541.42,697.41 L542.96,697.42 L544.49,697.43 L546.02,697.44 L547.55,697.45 L549.09,697.46 L550.62,697.47 L552.15,697.48 L553.69,697.48 L555.22,697.49 L556.75,697.49 L558.28,697.50 L559.82,697.50 L561.35,697.50 L562.88,697.50 L564.42,697.50 L565.95,697.50 L567.48,697.50 L569.01,697.50 L570.55,697.50 L572.08,697.50 L573.61,697.50 L575.15,697.49 L576.68,697.49 L578.21,697.48 L579.75,697.48 L581.28,697.47 L582.81,697.47 L584.34,697.46 L585.88,697.45 L587.41,697.44 L588.94,697.44 L590.48,697.43 L592.01,697.42 L593.54,697.41 L595.07,697.40 L596.61,697.39 L598.14,697.38 L599.67,697.37 L601.21,697.36 L602.74,697.34 L604.27,697.33 L605.80,697.32 L607.34,697.31 L608.87,697.30 L610.40,697.28 L611.94,697.27 L613.47,697.26 L615.00,697.24 L616.53,697.23 L618.07,697.21 L619.60,697.20 L619.60,697.20 L620.45,696.17 L621.23,695.07 L621.96,693.90 L622.66,692.69 L623.33,691.44 L623.98,690.18 L624.64,688.92 L625.30,687.68 L625.99,686.46 L626.72,685.29 L627.50,684.19 L628.34,683.16 L629.25,682.23 L630.25,681.41 L631.35,680.71 L632.57,680.16 L633.90,679.76 L635.38,679.54 L637.00,679.50 L637.00,679.80 L638.50,679.71 L640.01,679.63 L641.51,679.54 L643.01,679.45 L644.51,679.36 L646.01,679.27 L647.52,679.17 L649.02,679.08 L650.52,678.98 L652.02,678.89 L653.52,678.79 L655.03,678.70 L656.53,678.60 L658.03,678.50 L659.53,678.40 L661.03,678.30 L662.53,678.20 L664.03,678.09 L665.54,677.99 L667.04,677.89 L668.54,677.78 L670.04,677.68 L671.54,677.57 L673.04,677.46 L674.54,677.35 L676.04,677.24 L677.54,677.13 L679.04,677.02 L680.54,676.91 L682.04,676.80 L683.54,676.69 L685.04,676.57 L686.55,676.46 L688.05,676.34 L689.55,676.22 L691.05,676.11 L692.55,675.99 L694.05,675.87 L695.54,675.75 L697.04,675.63 L698.54,675.51 L700.04,675.39 L701.54,675.27 L703.04,675.14 L704.54,675.02 L706.04,674.89 L707.54,674.77 L709.04,674.64 L710.54,674.52 L712.04,674.39 L713.54,674.26 L715.04,674.13 L716.54,674.00 L718.03,673.87 L719.53,673.74 L721.03,673.61 L722.53,673.48 L724.03,673.34 L725.53,673.21 L727.03,673.08 L728.53,672.94 L730.02,672.81 L731.52,672.67 L733.02,672.53 L734.52,672.40 L736.02,672.26 L737.52,672.12 L739.01,671.98 L740.51,671.84 L742.01,671.70 L743.51,671.56 L745.01,671.42 L746.50,671.28 L748.00,671.13 L749.50,670.99 L751.00,670.85 L752.49,670.70 L753.99,670.56 L755.49,670.41 L756.99,670.27 L758.48,670.12 L759.98,669.97 L761.48,669.83 L762.98,669.68 L764.47,669.53 L765.97,669.38 L767.47,669.23 L768.97,669.08 L770.46,668.93 L771.96,668.78 L773.46,668.63 L774.95,668.48 L776.45,668.33 L777.95,668.17 L779.45,668.02 L780.94,667.87 L782.44,667.71 L783.94,667.56 L785.43,667.40 L786.93,667.25 L788.43,667.09 L789.92,666.94 L791.42,666.78 L792.92,666.62 L794.41,666.47 L795.91,666.31 L797.41,666.15 L798.90,665.99 L800.40,665.83 L801.90,665.67 L803.39,665.51 L804.89,665.35 L806.38,665.19 L807.88,665.03 L809.38,664.87 L810.87,664.71 L812.37,664.55 L813.87,664.39 L815.36,664.22 L816.86,664.06 L818.35,663.90 L819.85,663.73 L821.35,663.57 L822.84,663.41 L824.34,663.24 L825.83,663.08 L827.33,662.91 L828.83,662.75 L830.32,662.58 L831.82,662.42 L833.31,662.25 L834.81,662.09 L836.31,661.92 L837.80,661.75 L839.30,661.59 L840.79,661.42 L842.29,661.25 L843.78,661.09 L845.28,660.92 L846.78,660.75 L848.27,660.58 L849.77,660.41 L851.26,660.25 L852.76,660.08 L854.25,659.91 L855.75,659.74 L857.25,659.57 L858.74,659.40 L860.24,659.23 L861.73,659.06 L863.23,658.89 L864.72,658.72 L866.22,658.55 L867.71,658.38 L869.21,658.21 L870.70,658.04 L872.20,657.87 L873.70,657.70 L875.19,657.53 L876.69,657.36 L878.18,657.19 L879.68,657.02 L881.17,656.85 L882.67,656.67 L884.16,656.50 L885.66,656.33 L887.16,656.16 L888.65,655.99 L890.15,655.82 L891.64,655.65 L893.14,655.47 L894.63,655.30 L896.13,655.13 L897.62,654.96 L899.12,654.79 L900.61,654.62 L902.11,654.45 L903.60,654.27 L905.10,654.10 L906.60,653.93 L908.09,653.76 L909.59,653.59 L911.08,653.42 L912.58,653.24 L914.07,653.07 L915.57,652.90 L917.06,652.73 L918.56,652.56 L920.05,652.39 L921.55,652.22 L923.05,652.04 L924.54,651.87 L926.04,651.70 L927.53,651.53 L929.03,651.36 L930.52,651.19 L932.02,651.02 L933.51,650.85 L935.01,650.68 L936.51,650.51 L938.00,650.34 L939.50,650.17 L940.99,650.00 L942.49,649.83 L943.98,649.66 L945.48,649.49 L946.97,649.32 L948.47,649.15 L949.97,648.98 L951.46,648.81 L952.96,648.64 L954.45,648.48 L955.95,648.31 L957.44,648.14 L958.94,647.97 L960.44,647.80 L961.93,647.64 L963.43,647.47 L964.92,647.30 L966.42,647.14 L967.92,646.97 L969.41,646.80 L970.91,646.64 L972.40,646.47 L973.90,646.31 L975.40,646.14 L976.89,645.98 L978.39,645.81 L979.88,645.65 L981.38,645.48 L982.88,645.32 L984.37,645.16 L985.87,644.99 L987.36,644.83 L988.86,644.67 L990.36,644.50 L991.85,644.34 L993.35,644.18 L994.85,644.02 L996.34,643.86 L997.84,643.70 L999.34,643.54 L1000.83,643.38 L1002.33,643.22 L1003.83,643.06 L1005.32,642.90 L1006.82,642.74 L1008.32,642.58 L1009.81,642.42 L1011.31,642.27 L1012.81,642.11 L1014.30,641.95 L1015.80,641.80 L1017.30,641.64 L1018.79,641.49 L1020.29,641.33 L1021.79,641.18 L1023.28,641.02 L1024.78,640.87 L1026.28,640.72 L1027.78,640.56 L1029.27,640.41 L1030.77,640.26 L1032.27,640.11 L1033.77,639.96 L1035.26,639.81 L1036.76,639.66 L1038.26,639.51 L1039.75,639.36 L1041.25,639.21 L1042.75,639.06 L1044.25,638.91 L1045.75,638.77 L1047.24,638.62 L1048.74,638.48 L1050.24,638.33 L1051.74,638.19 L1053.23,638.04 L1054.73,637.90 L1056.23,637.75 L1057.73,637.61 L1059.23,637.47 L1060.73,637.33 L1062.22,637.19 L1063.72,637.05 L1065.22,636.91 L1066.72,636.77 L1068.22,636.63 L1069.72,636.49 L1071.21,636.36 L1072.71,636.22 L1074.21,636.08 L1075.71,635.95 L1077.21,635.81 L1078.71,635.68 L1080.21,635.54 L1081.71,635.41 L1083.20,635.28 L1084.70,635.15 L1086.20,635.02 L1087.70,634.89 L1089.20,634.76 L1090.70,634.63 L1092.20,634.50" stroke="#0c1255" fill="none" stroke-width="4.2" stroke-linejoin="round" stroke-linecap="round"/>
<path d="M148.50,704.80 L150.03,704.79 L151.56,704.78 L153.08,704.77 L154.61,704.77 L156.14,704.76 L157.67,704.76 L159.20,704.75 L160.73,704.75 L162.25,704.75 L163.78,704.74 L165.31,704.74 L166.84,704.74 L168.37,704.74 L169.90,704.74 L171.43,704.74 L172.95,704.74 L174.48,704.75 L176.01,704.75 L177.54,704.75 L179.07,704.75 L180.60,704.76 L182.13,704.76 L183.65,704.76 L185.18,704.77 L186.71,704.77 L188.24,704.77 L189.77,704.78 L191.30,704.78 L192.83,704.79 L194.35,704.79 L195.88,704.79 L197.41,704.80 L198.94,704.80 L200.47,704.80 L202.00,704.80 L203.53,704.81 L205.06,704.81 L206.58,704.81 L208.11,704.81 L209.64,704.81 L211.17,704.81 L212.70,704.81 L214.23,704.81 L215.76,704.80 L217.28,704.80 L218.81,704.80 L220.34,704.79 L221.87,704.79 L223.40,704.78 L224.93,704.78 L226.46,704.77 L227.98,704.76 L229.51,704.75 L231.04,704.74 L232.57,704.73 L234.10,704.71 L235.63,704.70 L237.15,704.68 L238.68,704.67 L240.21,704.65 L241.74,704.63 L243.27,704.61 L244.80,704.59 L246.32,704.56 L247.85,704.54 L249.38,704.51 L250.91,704.48 L252.44,704.45 L253.97,704.42 L255.49,704.39 L257.02,704.35 L258.55,704.32 L260.08,704.28 L261.61,704.24 L263.13,704.20 L264.66,704.15 L266.19,704.11 L267.72,704.06 L269.24,704.01 L270.77,703.95 L272.30,703.90 L272.30,703.90 L273.54,702.98 L274.78,702.07 L276.03,701.18 L277.30,700.31 L278.57,699.46 L279.85,698.62 L281.14,697.81 L282.44,697.01 L283.74,696.23 L285.06,695.46 L286.38,694.71 L287.71,693.98 L289.05,693.27 L290.39,692.57 L291.74,691.89 L293.10,691.22 L294.47,690.57 L295.84,689.94 L297.22,689.32 L298.61,688.72 L300.00,688.13 L301.40,687.56 L302.80,687.00 L304.21,686.46 L305.63,685.93 L307.05,685.42 L308.48,684.92 L309.92,684.44 L311.35,683.96 L312.80,683.51 L314.25,683.06 L315.70,682.64 L317.16,682.22 L318.62,681.82 L320.08,681.43 L321.55,681.05 L323.03,680.68 L324.51,680.33 L325.99,679.99 L327.47,679.66 L328.96,679.35 L330.45,679.04 L331.95,678.75 L333.45,678.47 L334.95,678.20 L336.45,677.94 L337.96,677.70 L339.46,677.46 L340.97,677.23 L342.48,677.02 L344.00,676.81 L345.51,676.62 L347.03,676.43 L348.55,676.26 L350.07,676.09 L351.59,675.94 L353.11,675.79 L354.63,675.65 L356.15,675.53 L357.68,675.41 L359.20,675.30 L360.72,675.19 L362.25,675.10 L363.77,675.01 L365.29,674.94 L366.82,674.87 L368.34,674.81 L369.86,674.75 L371.38,674.70 L372.90,674.66 L374.42,674.63 L375.93,674.60 L377.45,674.59 L378.96,674.57 L380.47,674.57 L381.98,674.57 L383.49,674.57 L385.00,674.58 L386.50,674.60 L386.50,674.60 L387.26,673.39 L388.03,672.16 L388.79,670.91 L389.55,669.64 L390.32,668.37 L391.09,667.08 L391.86,665.78 L392.64,664.47 L393.42,663.16 L394.21,661.84 L395.00,660.51 L395.80,659.19 L396.61,657.86 L397.43,656.54 L398.26,655.22 L399.10,653.90 L399.95,652.59 L400.81,651.28 L401.68,649.99 L402.57,648.70 L403.47,647.43 L404.39,646.17 L405.32,644.93 L406.27,643.70 L407.23,642.50 L408.21,641.31 L409.21,640.15 L410.23,639.00 L411.27,637.89 L412.32,636.80 L413.39,635.73 L414.49,634.69 L415.60,633.68 L416.72,632.69 L417.87,631.74 L419.03,630.81 L420.21,629.91 L421.41,629.05 L422.62,628.21 L423.85,627.41 L425.10,626.64 L426.36,625.91 L427.64,625.21 L428.93,624.55 L430.24,623.92 L431.57,623.33 L432.91,622.78 L434.27,622.27 L435.64,621.79 L437.03,621.36 L438.43,620.96 L439.85,620.61 L441.28,620.30 L442.72,620.02 L444.17,619.78 L445.64,619.58 L447.12,619.41 L448.60,619.27 L450.10,619.17 L451.60,619.10 L453.12,619.06 L454.64,619.05 L456.16,619.06 L457.69,619.11 L459.23,619.18 L460.77,619.27 L462.32,619.39 L463.87,619.54 L465.42,619.70 L466.97,619.89 L468.52,620.09 L470.08,620.32 L471.63,620.56 L473.18,620.82 L474.73,621.09 L476.28,621.38 L477.83,621.68 L479.37,621.99 L480.90,622.32 L482.43,622.66 L483.96,623.00 L485.48,623.35 L486.99,623.71 L488.49,624.08 L489.99,624.45 L491.47,624.83 L492.95,625.20 L494.41,625.58 L495.86,625.96 L497.30,626.34 L498.73,626.72 L500.15,627.10 L501.55,627.47 L502.93,627.84 L504.30,628.20 L504.30,628.20 L504.59,626.66 L504.89,625.13 L505.18,623.60 L505.48,622.08 L505.77,620.57 L506.07,619.06 L506.37,617.55 L506.67,616.05 L506.97,614.56 L507.27,613.07 L507.57,611.58 L507.87,610.10 L508.18,608.62 L508.48,607.14 L508.79,605.67 L509.09,604.20 L509.40,602.73 L509.71,601.27 L510.01,599.81 L510.32,598.35 L510.63,596.89 L510.94,595.43 L511.25,593.98 L511.56,592.53 L511.87,591.07 L512.18,589.62 L512.49,588.17 L512.80,586.72 L513.11,585.26 L513.42,583.81 L513.73,582.36 L514.05,580.90 L514.36,579.45 L514.67,577.99 L514.98,576.53 L515.29,575.07 L515.61,573.61 L515.92,572.15 L516.23,570.68 L516.54,569.21 L516.85,567.74 L517.17,566.26 L517.48,564.78 L517.79,563.30 L518.10,561.81 L518.41,560.32 L518.72,558.82 L519.03,557.32 L519.34,555.82 L519.65,554.31 L519.96,552.79 L520.26,551.27 L520.57,549.74 L520.88,548.21 L521.19,546.68 L521.51,545.14 L521.83,543.60 L522.17,542.07 L522.51,540.53 L522.87,539.00 L523.24,537.48 L523.63,535.96 L524.03,534.45 L524.46,532.95 L524.91,531.46 L525.38,529.98 L525.88,528.52 L526.41,527.07 L526.97,525.64 L527.56,524.22 L528.18,522.83 L528.84,521.45 L529.54,520.10 L530.28,518.78 L531.06,517.47 L531.88,516.20 L532.75,514.95 L533.67,513.74 L534.63,512.56 L535.63,511.44 L536.68,510.37 L537.76,509.36 L538.89,508.43 L540.05,507.57 L541.24,506.81 L542.47,506.14 L543.74,505.58 L545.03,505.13 L546.34,504.79 L547.68,504.56 L549.04,504.44 L550.40,504.41 L551.77,504.50 L553.15,504.68 L554.52,504.95 L555.88,505.33 L557.22,505.79 L558.56,506.35 L559.87,506.99 L561.16,507.72 L562.44,508.51 L563.70,509.37 L564.94,510.29 L566.17,511.26 L567.39,512.27 L568.59,513.33 L569.79,514.41 L570.97,515.52 L572.14,516.65 L573.30,517.78 L574.46,518.92 L575.61,520.06 L576.75,521.19 L577.89,522.30 L579.02,523.41 L580.14,524.50 L581.26,525.59 L582.38,526.66 L583.49,527.72 L584.60,528.78 L585.70,529.83 L586.81,530.87 L587.90,531.90 L589.00,532.93 L590.09,533.95 L591.18,534.97 L592.27,535.98 L593.36,536.98 L594.45,537.99 L595.53,538.99 L596.62,539.99 L597.70,540.99 L598.79,541.98 L599.87,542.98 L600.95,543.98 L602.04,544.97 L603.13,545.97 L604.21,546.97 L605.30,547.97 L606.40,548.98 L607.49,549.99 L608.59,551.00 L609.69,552.02 L610.79,553.05 L611.89,554.08 L613.00,555.11 L614.12,556.16 L615.24,557.21 L616.36,558.27 L617.49,559.34 L618.62,560.41 L619.76,561.50 L620.90,562.60 L620.90,562.60 L621.23,561.14 L621.55,559.68 L621.85,558.22 L622.15,556.75 L622.44,555.28 L622.71,553.80 L622.98,552.33 L623.23,550.85 L623.48,549.37 L623.72,547.88 L623.94,546.39 L624.17,544.90 L624.38,543.41 L624.59,541.92 L624.79,540.42 L624.98,538.93 L625.17,537.43 L625.35,535.93 L625.53,534.43 L625.70,532.93 L625.86,531.42 L626.02,529.92 L626.18,528.41 L626.34,526.91 L626.49,525.40 L626.64,523.89 L626.78,522.39 L626.93,520.88 L627.07,519.37 L627.21,517.86 L627.35,516.36 L627.49,514.85 L627.63,513.34 L627.77,511.84 L627.91,510.33 L628.06,508.83 L628.20,507.32 L628.34,505.82 L628.49,504.32 L628.64,502.82 L628.79,501.32 L628.95,499.82 L629.10,498.33 L629.27,496.84 L629.43,495.35 L629.60,493.86 L629.78,492.37 L629.96,490.88 L630.15,489.40 L630.34,487.92 L630.54,486.44 L630.74,484.97 L630.95,483.49 L631.16,482.02 L631.37,480.55 L631.59,479.08 L631.81,477.61 L632.04,476.14 L632.26,474.67 L632.50,473.20 L632.73,471.73 L632.97,470.27 L633.21,468.80 L633.45,467.33 L633.69,465.86 L633.94,464.39 L634.18,462.92 L634.43,461.45 L634.68,459.98 L634.93,458.51 L635.18,457.03 L635.43,455.56 L635.68,454.08 L635.93,452.60 L636.18,451.12 L636.44,449.64 L636.69,448.15 L636.94,446.66 L637.18,445.17 L637.43,443.68 L637.68,442.18 L637.92,440.68 L638.16,439.18 L638.40,437.67 L638.64,436.16 L638.88,434.64 L639.11,433.13 L639.34,431.60 L639.57,430.08 L639.79,428.54 L640.01,427.01 L640.22,425.47 L640.44,423.92 L640.65,422.37 L640.86,420.82 L641.07,419.27 L641.30,417.72 L641.54,416.18 L641.79,414.64 L642.06,413.11 L642.35,411.59 L642.67,410.09 L643.01,408.60 L643.39,407.13 L643.80,405.68 L644.25,404.25 L644.75,402.85 L645.29,401.47 L645.88,400.12 L646.52,398.80 L647.22,397.52 L647.97,396.26 L648.79,395.05 L649.68,393.87 L650.63,392.75 L651.64,391.71 L652.71,390.81 L653.81,390.09 L654.95,389.58 L656.11,389.33 L657.28,389.33 L658.43,389.57 L659.55,390.03 L660.64,390.69 L661.72,391.51 L662.76,392.47 L663.79,393.56 L664.79,394.75 L665.77,396.02 L666.74,397.34 L667.69,398.70 L668.62,400.06 L669.53,401.42 L670.43,402.78 L671.31,404.14 L672.18,405.50 L673.04,406.85 L673.88,408.21 L674.71,409.57 L675.53,410.92 L676.34,412.27 L677.14,413.63 L677.92,414.98 L678.70,416.33 L679.46,417.68 L680.22,419.02 L680.97,420.37 L681.71,421.71 L682.44,423.06 L683.17,424.40 L683.89,425.74 L684.60,427.08 L685.31,428.42 L686.01,429.75 L686.71,431.09 L687.40,432.42 L688.10,433.76 L688.79,435.09 L689.47,436.42 L690.16,437.74 L690.84,439.07 L691.53,440.39 L692.21,441.71 L692.89,443.03 L693.58,444.35 L694.26,445.67 L694.95,446.98 L695.64,448.30 L696.33,449.61 L697.03,450.92 L697.73,452.22 L698.43,453.53 L699.14,454.83 L699.86,456.13 L700.58,457.43 L701.31,458.73 L702.04,460.02 L702.78,461.32 L703.53,462.60 L704.28,463.89 L705.04,465.18 L705.80,466.46 L706.58,467.74 L707.35,469.01 L708.14,470.29 L708.93,471.56 L709.73,472.82 L710.53,474.09 L711.34,475.35 L712.16,476.60 L712.98,477.86 L713.81,479.11 L714.64,480.35 L715.49,481.59 L716.34,482.83 L717.19,484.07 L718.05,485.30 L718.92,486.52 L719.80,487.74 L720.68,488.96 L721.56,490.18 L722.46,491.38 L723.36,492.59 L724.27,493.79 L725.18,494.98 L726.10,496.17 L727.03,497.36 L727.97,498.54 L728.91,499.71 L729.86,500.88 L730.81,502.04 L731.77,503.20 L732.74,504.36 L733.71,505.50 L734.70,506.65 L735.68,507.78 L736.68,508.91 L737.68,510.04 L738.69,511.15 L739.71,512.27 L740.73,513.37 L741.76,514.47 L742.79,515.57 L743.84,516.65 L744.89,517.73 L745.94,518.81 L747.01,519.87 L748.08,520.93 L749.16,521.99 L750.24,523.03 L751.33,524.07 L752.43,525.10 L753.54,526.13 L754.65,527.15 L755.77,528.16 L756.89,529.16 L758.03,530.16 L759.16,531.14 L760.31,532.12 L761.46,533.10 L762.62,534.07 L763.79,535.02 L764.96,535.98 L766.13,536.92 L767.32,537.86 L768.51,538.79 L769.70,539.71 L770.90,540.63 L772.11,541.54 L773.32,542.44 L774.54,543.33 L775.76,544.22 L776.99,545.10 L778.23,545.97 L779.47,546.83 L780.71,547.69 L781.96,548.54 L783.22,549.38 L784.48,550.22 L785.74,551.05 L787.01,551.87 L788.29,552.68 L789.57,553.49 L790.85,554.28 L792.14,555.08 L793.43,555.86 L794.73,556.64 L796.03,557.40 L797.34,558.17 L798.65,558.92 L799.96,559.67 L801.28,560.41 L802.61,561.14 L803.93,561.86 L805.26,562.58 L806.60,563.29 L807.94,563.99 L809.28,564.69 L810.62,565.38 L811.97,566.06 L813.32,566.73 L814.68,567.39 L816.04,568.05 L817.40,568.70 L818.76,569.34 L820.13,569.98 L821.50,570.61 L822.88,571.23 L824.25,571.84 L825.63,572.45 L827.02,573.04 L828.40,573.63 L829.79,574.22 L831.18,574.79 L832.57,575.36 L833.96,575.92 L835.36,576.47 L836.76,577.02 L838.16,577.56 L839.56,578.09 L840.97,578.62 L842.38,579.14 L843.79,579.65 L845.20,580.15 L846.61,580.65 L848.03,581.14 L849.44,581.63 L850.86,582.11 L852.29,582.58 L853.71,583.05 L855.14,583.51 L856.56,583.96 L857.99,584.41 L859.42,584.86 L860.86,585.30 L862.29,585.73 L863.73,586.16 L865.16,586.58 L866.60,587.00 L868.04,587.41 L869.49,587.81 L870.93,588.22 L872.38,588.61 L873.82,589.01 L875.27,589.39 L876.72,589.78 L878.17,590.16 L879.63,590.53 L881.08,590.90 L882.53,591.27 L883.99,591.63 L885.45,591.99 L886.91,592.34 L888.37,592.69 L889.83,593.04 L891.29,593.38 L892.75,593.72 L894.22,594.06 L895.68,594.40 L897.15,594.73 L898.62,595.05 L900.08,595.38 L901.55,595.70 L903.02,596.02 L904.49,596.33 L905.96,596.65 L907.44,596.96 L908.91,597.27 L910.38,597.57 L911.86,597.88 L913.33,598.18 L914.81,598.48 L916.28,598.78 L917.76,599.07 L919.24,599.37 L920.71,599.66 L922.19,599.95 L923.67,600.24 L925.15,600.53 L926.63,600.82 L928.11,601.10 L929.59,601.39 L931.06,601.67 L932.54,601.96 L934.03,602.24 L935.51,602.52 L936.99,602.80 L938.47,603.07 L939.95,603.35 L941.43,603.63 L942.91,603.90 L944.40,604.17 L945.88,604.44 L947.36,604.71 L948.85,604.98 L950.33,605.25 L951.81,605.51 L953.30,605.78 L954.78,606.04 L956.27,606.30 L957.75,606.56 L959.24,606.82 L960.72,607.08 L962.21,607.33 L963.70,607.59 L965.18,607.84 L966.67,608.09 L968.16,608.34 L969.64,608.58 L971.13,608.83 L972.62,609.07 L974.11,609.32 L975.59,609.56 L977.08,609.79 L978.57,610.03 L980.06,610.27 L981.55,610.50 L983.04,610.73 L984.53,610.96 L986.02,611.19 L987.51,611.41 L989.00,611.64 L990.49,611.86 L991.98,612.08 L993.47,612.30 L994.97,612.51 L996.46,612.73 L997.95,612.94 L999.44,613.15 L1000.94,613.36 L1002.43,613.56 L1003.92,613.77 L1005.42,613.97 L1006.91,614.17 L1008.40,614.37 L1009.90,614.56 L1011.39,614.75 L1012.89,614.95 L1014.38,615.13 L1015.88,615.32 L1017.37,615.50 L1018.87,615.69 L1020.36,615.87 L1021.86,616.04 L1023.35,616.22 L1024.85,616.39 L1026.35,616.56 L1027.84,616.73 L1029.34,616.89 L1030.84,617.06 L1032.34,617.22 L1033.83,617.37 L1035.33,617.53 L1036.83,617.68 L1038.33,617.83 L1039.83,617.98 L1041.33,618.13 L1042.82,618.27 L1044.32,618.41 L1045.82,618.55 L1047.32,618.68 L1048.82,618.81 L1050.32,618.94 L1051.82,619.07 L1053.32,619.19 L1054.82,619.31 L1056.32,619.43 L1057.83,619.55 L1059.33,619.66 L1060.83,619.77 L1062.33,619.88 L1063.83,619.98 L1065.33,620.09 L1066.84,620.18 L1068.34,620.28 L1069.84,620.37 L1071.34,620.46 L1072.85,620.55 L1074.35,620.63 L1075.85,620.71 L1077.36,620.79 L1078.86,620.87 L1080.36,620.94 L1081.87,621.01 L1083.37,621.07 L1084.88,621.14 L1086.38,621.19 L1087.88,621.25 L1089.39,621.30 L1090.89,621.35 L1092.40,621.40" stroke="#5e9120" fill="none" stroke-width="4.2" stroke-linejoin="round" stroke-linecap="round"/>
<path d="M148.50,1139.40 L185.00,1139.20 L200.00,1138.40 L210.00,1137.60 L225.00,1137.60 L238.00,1138.60 L255.00,1139.30 L266.00,1139.20 L270.00,1137.60 L276.00,1136.40 L285.00,1136.20 L294.00,1137.40 L305.00,1138.60 L320.00,1139.30 L384.00,1139.40 L387.00,1137.20 L390.00,1135.80 L395.00,1135.60 L400.00,1136.80 L410.00,1137.40 L430.00,1137.20 L455.00,1136.40 L480.00,1135.60 L501.30,1134.90 L501.30,1134.90 L501.75,1133.24 L502.26,1131.66 L502.85,1130.17 L503.52,1128.77 L504.29,1127.49 L505.17,1126.34 L506.17,1125.32 L507.26,1124.41 L508.43,1123.60 L509.66,1122.85 L510.92,1122.13 L512.20,1121.44 L513.50,1120.76 L514.81,1120.10 L516.14,1119.46 L517.48,1118.83 L518.84,1118.21 L520.21,1117.61 L521.59,1117.01 L522.97,1116.42 L524.37,1115.83 L525.77,1115.25 L527.18,1114.68 L528.59,1114.10 L530.01,1113.52 L531.42,1112.95 L532.84,1112.36 L534.25,1111.78 L535.67,1111.18 L537.07,1110.58 L538.48,1109.97 L539.87,1109.35 L541.26,1108.71 L542.65,1108.06 L544.02,1107.40 L545.39,1106.73 L546.75,1106.04 L548.10,1105.34 L549.45,1104.63 L550.79,1103.91 L552.12,1103.18 L553.45,1102.44 L554.77,1101.69 L556.09,1100.93 L557.40,1100.17 L558.71,1099.39 L560.01,1098.61 L561.31,1097.82 L562.60,1097.03 L563.89,1096.23 L565.18,1095.42 L566.47,1094.61 L567.75,1093.79 L569.03,1092.97 L570.31,1092.15 L571.58,1091.32 L572.86,1090.50 L574.13,1089.66 L575.40,1088.83 L576.67,1088.00 L577.94,1087.16 L579.21,1086.32 L580.48,1085.49 L581.76,1084.65 L583.03,1083.82 L584.30,1082.99 L585.57,1082.16 L586.85,1081.33 L588.12,1080.50 L589.40,1079.68 L590.68,1078.87 L591.97,1078.05 L593.25,1077.24 L594.54,1076.44 L595.83,1075.64 L597.13,1074.85 L598.43,1074.07 L599.74,1073.29 L601.04,1072.52 L602.36,1071.76 L603.68,1071.00 L605.00,1070.26 L606.33,1069.52 L607.67,1068.80 L609.01,1068.09 L610.36,1067.38 L611.71,1066.69 L613.07,1066.01 L614.44,1065.34 L615.82,1064.69 L617.21,1064.04 L618.60,1063.41 L620.00,1062.80 L620.00,1062.80 L620.33,1061.28 L620.63,1059.75 L620.92,1058.22 L621.18,1056.69 L621.43,1055.15 L621.66,1053.61 L621.88,1052.07 L622.08,1050.53 L622.27,1048.99 L622.45,1047.44 L622.62,1045.89 L622.78,1044.34 L622.94,1042.79 L623.09,1041.24 L623.24,1039.69 L623.38,1038.14 L623.53,1036.59 L623.67,1035.03 L623.82,1033.48 L623.97,1031.93 L624.12,1030.38 L624.28,1028.83 L624.45,1027.29 L624.62,1025.74 L624.80,1024.20 L625.00,1022.66 L625.21,1021.12 L625.43,1019.58 L625.67,1018.04 L625.92,1016.51 L626.20,1014.98 L626.49,1013.46 L626.80,1011.94 L627.14,1010.42 L627.50,1008.91 L627.88,1007.40 L628.29,1005.89 L628.73,1004.39 L629.20,1002.90 L629.20,1002.91 L630.33,1001.91 L631.46,1000.91 L632.59,999.92 L633.72,998.92 L634.85,997.93 L635.98,996.93 L637.12,995.94 L638.25,994.95 L639.39,993.96 L640.53,992.97 L641.66,991.98 L642.80,991.00 L643.94,990.01 L645.08,989.03 L646.23,988.04 L647.37,987.06 L648.51,986.08 L649.66,985.10 L650.81,984.12 L651.95,983.14 L653.10,982.16 L654.25,981.19 L655.40,980.21 L656.55,979.24 L657.71,978.27 L658.86,977.30 L660.02,976.33 L661.17,975.36 L662.33,974.39 L663.49,973.43 L664.65,972.46 L665.81,971.50 L666.97,970.54 L668.14,969.58 L669.30,968.62 L670.47,967.66 L671.63,966.70 L672.80,965.75 L673.97,964.80 L675.14,963.84 L676.31,962.89 L677.49,961.94 L678.66,961.00 L679.84,960.05 L681.01,959.11 L682.19,958.16 L683.37,957.22 L684.55,956.28 L685.73,955.34 L686.91,954.41 L688.10,953.47 L689.28,952.54 L690.47,951.60 L691.65,950.67 L692.84,949.75 L694.03,948.82 L695.22,947.89 L696.42,946.97 L697.61,946.05 L698.80,945.13 L700.00,944.21 L701.20,943.29 L702.40,942.38 L703.60,941.46 L704.80,940.55 L706.00,939.64 L707.20,938.73 L708.41,937.83 L709.61,936.92 L710.82,936.02 L712.03,935.12 L713.24,934.22 L714.45,933.32 L715.66,932.43 L716.88,931.53 L718.09,930.64 L719.31,929.75 L720.53,928.87 L721.75,927.98 L722.97,927.10 L724.19,926.22 L725.41,925.34 L726.64,924.46 L727.86,923.58 L729.09,922.71 L730.32,921.84 L731.55,920.97 L732.78,920.10 L734.01,919.24 L735.25,918.37 L736.48,917.51 L737.72,916.65 L738.96,915.80 L740.20,914.94 L741.44,914.09 L742.68,913.24 L743.92,912.39 L745.17,911.55 L746.41,910.70 L747.66,909.86 L748.91,909.02 L750.16,908.19 L751.42,907.35 L752.67,906.52 L753.92,905.69 L755.18,904.86 L756.44,904.04 L757.70,903.22 L758.96,902.40 L760.22,901.58 L761.48,900.76 L762.75,899.95 L764.02,899.14 L765.28,898.33 L766.55,897.53 L767.82,896.72 L769.10,895.92 L770.37,895.12 L771.65,894.33 L772.92,893.53 L774.20,892.74 L775.48,891.95 L776.76,891.17 L778.04,890.39 L779.33,889.61 L780.61,888.83 L781.90,888.05 L783.19,887.28 L784.48,886.51 L785.77,885.74 L787.07,884.98 L788.36,884.22 L789.66,883.46 L790.96,882.70 L792.25,881.95 L793.56,881.19 L794.86,880.45 L796.16,879.70 L797.47,878.96 L798.78,878.22 L800.08,877.48 L801.39,876.74 L802.71,876.01 L804.02,875.28 L805.33,874.55 L806.65,873.83 L807.97,873.11 L809.28,872.39 L810.60,871.67 L811.93,870.95 L813.25,870.24 L814.57,869.53 L815.90,868.83 L817.23,868.12 L818.55,867.42 L819.88,866.72 L821.21,866.02 L822.55,865.33 L823.88,864.63 L825.22,863.94 L826.55,863.26 L827.89,862.57 L829.23,861.89 L830.57,861.21 L831.91,860.53 L833.25,859.85 L834.60,859.18 L835.94,858.51 L837.29,857.84 L838.64,857.17 L839.98,856.51 L841.33,855.85 L842.69,855.19 L844.04,854.53 L845.39,853.87 L846.75,853.22 L848.10,852.57 L849.46,851.92 L850.82,851.27 L852.18,850.63 L853.54,849.99 L854.90,849.35 L856.26,848.71 L857.63,848.07 L858.99,847.44 L860.36,846.81 L861.72,846.18 L863.09,845.55 L864.46,844.92 L865.83,844.30 L867.20,843.68 L868.58,843.06 L869.95,842.44 L871.32,841.82 L872.70,841.21 L874.08,840.60 L875.45,839.99 L876.83,839.38 L878.21,838.77 L879.59,838.17 L880.97,837.57 L882.36,836.97 L883.74,836.37 L885.12,835.77 L886.51,835.18 L887.89,834.58 L889.28,833.99 L890.67,833.40 L892.06,832.82 L893.45,832.23 L894.84,831.65 L896.23,831.06 L897.62,830.48 L899.01,829.90 L900.41,829.33 L901.80,828.75 L903.20,828.18 L904.59,827.61 L905.99,827.04 L907.39,826.47 L908.79,825.90 L910.19,825.33 L911.59,824.77 L912.99,824.21 L914.39,823.65 L915.79,823.09 L917.19,822.53 L918.60,821.98 L920.00,821.42 L921.41,820.87 L922.81,820.32 L924.22,819.77 L925.63,819.22 L927.03,818.67 L928.44,818.13 L929.85,817.58 L931.26,817.04 L932.67,816.50 L934.08,815.96 L935.49,815.42 L936.91,814.89 L938.32,814.35 L939.73,813.82 L941.15,813.28 L942.56,812.75 L943.98,812.22 L945.39,811.69 L946.81,811.17 L948.23,810.64 L949.64,810.12 L951.06,809.59 L952.48,809.07 L953.90,808.55 L955.32,808.03 L956.74,807.51 L958.16,806.99 L959.58,806.48 L961.00,805.96 L962.42,805.45 L963.84,804.94 L965.26,804.43 L966.69,803.92 L968.11,803.41 L969.53,802.90 L970.96,802.39 L972.38,801.89 L973.81,801.38 L975.23,800.88 L976.66,800.37 L978.08,799.87 L979.51,799.37 L980.94,798.87 L982.36,798.37 L983.79,797.88 L985.22,797.38 L986.65,796.88 L988.07,796.39 L989.50,795.90 L990.93,795.40 L992.36,794.91 L993.79,794.42 L995.22,793.93 L996.65,793.44 L998.08,792.95 L999.51,792.46 L1000.94,791.98 L1002.37,791.49 L1003.80,791.01 L1005.23,790.52 L1006.66,790.04 L1008.09,789.56 L1009.52,789.07 L1010.95,788.59 L1012.39,788.11 L1013.82,787.63 L1015.25,787.15 L1016.68,786.68 L1018.11,786.20 L1019.55,785.72 L1020.98,785.24 L1022.41,784.77 L1023.84,784.29 L1025.28,783.82 L1026.71,783.35 L1028.14,782.87 L1029.57,782.40 L1031.01,781.93 L1032.44,781.46 L1033.87,780.99 L1035.30,780.52 L1036.74,780.05 L1038.17,779.58 L1039.60,779.11 L1041.03,778.64 L1042.47,778.17 L1043.90,777.70 L1045.33,777.24 L1046.76,776.77 L1048.19,776.30 L1049.63,775.84 L1051.06,775.37 L1052.49,774.91 L1053.92,774.44 L1055.35,773.98 L1056.78,773.52 L1058.22,773.05 L1059.65,772.59 L1061.08,772.13 L1062.51,771.66 L1063.94,771.20 L1065.37,770.74 L1066.80,770.28 L1068.23,769.82 L1069.66,769.36 L1071.09,768.90 L1072.52,768.43 L1073.95,767.97 L1075.38,767.51 L1076.80,767.05 L1078.23,766.59 L1079.66,766.13 L1081.09,765.67 L1082.52,765.21 L1083.94,764.76 L1085.37,764.30 L1086.80,763.84 L1088.22,763.38 L1089.65,762.92 L1091.07,762.46 L1092.50,762.00" stroke="#0c1255" fill="none" stroke-width="4.2" stroke-linejoin="round" stroke-linecap="round"/>
<path d="M148.50,1139.60 L300.00,1139.60 L504.20,1139.40 L504.20,1139.40 L504.68,1137.87 L505.20,1136.36 L505.77,1134.88 L506.38,1133.42 L507.03,1131.99 L507.73,1130.59 L508.47,1129.22 L509.25,1127.88 L510.06,1126.57 L510.92,1125.30 L511.81,1124.06 L512.74,1122.85 L513.71,1121.69 L514.71,1120.56 L515.75,1119.47 L516.83,1118.43 L517.93,1117.43 L519.07,1116.47 L520.24,1115.56 L521.44,1114.69 L522.67,1113.86 L523.93,1113.07 L525.21,1112.33 L526.51,1111.63 L527.84,1110.97 L529.19,1110.35 L530.56,1109.77 L531.95,1109.23 L533.35,1108.73 L534.77,1108.26 L536.21,1107.84 L537.66,1107.45 L539.12,1107.10 L540.59,1106.79 L542.06,1106.51 L543.55,1106.27 L545.04,1106.06 L546.54,1105.89 L548.04,1105.75 L549.54,1105.65 L551.05,1105.57 L552.55,1105.53 L554.06,1105.52 L555.58,1105.53 L557.09,1105.58 L558.61,1105.65 L560.12,1105.75 L561.64,1105.87 L563.16,1106.01 L564.69,1106.18 L566.21,1106.36 L567.73,1106.57 L569.26,1106.80 L570.78,1107.04 L572.31,1107.30 L573.83,1107.58 L575.36,1107.87 L576.88,1108.17 L578.40,1108.49 L579.93,1108.82 L581.45,1109.16 L582.97,1109.51 L584.49,1109.87 L586.01,1110.23 L587.53,1110.60 L589.04,1110.97 L590.55,1111.35 L592.06,1111.74 L593.57,1112.12 L595.08,1112.50 L596.58,1112.89 L598.08,1113.27 L599.58,1113.65 L601.07,1114.03 L602.56,1114.40 L604.05,1114.76 L605.53,1115.12 L607.01,1115.47 L608.48,1115.82 L609.95,1116.15 L611.42,1116.47 L612.88,1116.78 L614.33,1117.07 L615.78,1117.35 L617.23,1117.62 L618.67,1117.87 L620.10,1118.10 L620.10,1118.10 L620.65,1116.85 L621.12,1115.54 L621.54,1114.17 L621.89,1112.76 L622.20,1111.30 L622.47,1109.80 L622.71,1108.28 L622.91,1106.72 L623.10,1105.13 L623.27,1103.53 L623.44,1101.92 L623.60,1100.29 L623.78,1098.66 L623.97,1097.03 L624.18,1095.41 L624.42,1093.80 L624.69,1092.20 L625.01,1090.62 L625.37,1089.07 L625.80,1087.54 L626.28,1086.05 L626.83,1084.61 L627.45,1083.22 L628.13,1081.89 L628.86,1080.63 L629.66,1079.45 L630.51,1078.37 L631.42,1077.39 L632.38,1076.53 L633.39,1075.78 L634.46,1075.17 L635.57,1074.71 L636.73,1074.39 L637.93,1074.24 L639.18,1074.24 L640.46,1074.39 L641.77,1074.67 L643.11,1075.08 L644.46,1075.59 L645.83,1076.19 L647.21,1076.88 L648.58,1077.64 L649.96,1078.46 L651.32,1079.32 L652.67,1080.21 L654.00,1081.12 L655.30,1082.05 L656.59,1082.98 L657.86,1083.92 L659.13,1084.86 L660.38,1085.79 L661.63,1086.72 L662.87,1087.64 L664.12,1088.54 L665.37,1089.43 L666.64,1090.30 L667.91,1091.14 L669.20,1091.96 L670.49,1092.76 L671.79,1093.54 L673.11,1094.30 L674.43,1095.04 L675.76,1095.75 L677.10,1096.45 L678.45,1097.14 L679.81,1097.80 L681.17,1098.45 L682.54,1099.08 L683.91,1099.69 L685.29,1100.29 L686.68,1100.88 L688.07,1101.45 L689.47,1102.01 L690.86,1102.55 L692.27,1103.08 L693.67,1103.61 L695.08,1104.11 L696.50,1104.61 L697.91,1105.10 L699.33,1105.57 L700.75,1106.04 L702.18,1106.49 L703.61,1106.94 L705.04,1107.37 L706.47,1107.79 L707.91,1108.20 L709.35,1108.61 L710.79,1109.00 L712.24,1109.38 L713.69,1109.76 L715.14,1110.12 L716.59,1110.48 L718.04,1110.82 L719.50,1111.16 L720.96,1111.49 L722.42,1111.81 L723.89,1112.13 L725.35,1112.43 L726.82,1112.73 L728.29,1113.02 L729.76,1113.30 L731.24,1113.57 L732.71,1113.84 L734.19,1114.10 L735.67,1114.35 L737.15,1114.60 L738.63,1114.84 L740.12,1115.07 L741.61,1115.30 L743.09,1115.52 L744.58,1115.74 L746.07,1115.95 L747.56,1116.15 L749.06,1116.35 L750.55,1116.55 L752.04,1116.74 L753.54,1116.92 L755.04,1117.10 L756.53,1117.27 L758.03,1117.45 L759.53,1117.61 L761.03,1117.77 L762.53,1117.93 L764.03,1118.09 L765.54,1118.24 L767.04,1118.39 L768.54,1118.53 L770.05,1118.68 L771.55,1118.82 L773.05,1118.95 L774.56,1119.09 L776.06,1119.22 L777.57,1119.35 L779.07,1119.48 L780.58,1119.60 L782.08,1119.73 L783.59,1119.85 L785.09,1119.97 L786.60,1120.09 L788.10,1120.21 L789.61,1120.33 L791.11,1120.44 L792.62,1120.56 L794.12,1120.67 L795.63,1120.78 L797.13,1120.89 L798.64,1121.00 L800.14,1121.10 L801.64,1121.21 L803.15,1121.31 L804.65,1121.42 L806.16,1121.52 L807.66,1121.62 L809.17,1121.71 L810.67,1121.81 L812.17,1121.90 L813.68,1122.00 L815.18,1122.09 L816.69,1122.18 L818.19,1122.27 L819.70,1122.36 L821.20,1122.45 L822.70,1122.53 L824.21,1122.62 L825.71,1122.70 L827.22,1122.78 L828.72,1122.86 L830.22,1122.94 L831.73,1123.02 L833.23,1123.10 L834.73,1123.17 L836.24,1123.25 L837.74,1123.32 L839.25,1123.39 L840.75,1123.47 L842.25,1123.54 L843.76,1123.60 L845.26,1123.67 L846.76,1123.74 L848.27,1123.80 L849.77,1123.87 L851.28,1123.93 L852.78,1123.99 L854.28,1124.05 L855.79,1124.11 L857.29,1124.17 L858.79,1124.23 L860.30,1124.29 L861.80,1124.34 L863.30,1124.40 L864.81,1124.45 L866.31,1124.50 L867.81,1124.55 L869.32,1124.60 L870.82,1124.65 L872.33,1124.70 L873.83,1124.75 L875.33,1124.80 L876.84,1124.84 L878.34,1124.89 L879.84,1124.93 L881.35,1124.98 L882.85,1125.02 L884.35,1125.06 L885.86,1125.10 L887.36,1125.14 L888.86,1125.18 L890.37,1125.22 L891.87,1125.25 L893.37,1125.29 L894.88,1125.32 L896.38,1125.36 L897.88,1125.39 L899.39,1125.43 L900.89,1125.46 L902.39,1125.49 L903.90,1125.52 L905.40,1125.55 L906.90,1125.58 L908.41,1125.61 L909.91,1125.64 L911.41,1125.67 L912.92,1125.69 L914.42,1125.72 L915.92,1125.74 L917.43,1125.77 L918.93,1125.79 L920.43,1125.82 L921.94,1125.84 L923.44,1125.86 L924.94,1125.88 L926.45,1125.90 L927.95,1125.92 L929.45,1125.94 L930.96,1125.96 L932.46,1125.98 L933.96,1126.00 L935.47,1126.02 L936.97,1126.03 L938.48,1126.05 L939.98,1126.07 L941.48,1126.08 L942.99,1126.10 L944.49,1126.11 L945.99,1126.13 L947.50,1126.14 L949.00,1126.15 L950.50,1126.17 L952.01,1126.18 L953.51,1126.19 L955.02,1126.20 L956.52,1126.22 L958.02,1126.23 L959.53,1126.24 L961.03,1126.25 L962.53,1126.26 L964.04,1126.27 L965.54,1126.28 L967.05,1126.29 L968.55,1126.30 L970.05,1126.30 L971.56,1126.31 L973.06,1126.32 L974.57,1126.33 L976.07,1126.34 L977.57,1126.34 L979.08,1126.35 L980.58,1126.36 L982.09,1126.36 L983.59,1126.37 L985.09,1126.38 L986.60,1126.38 L988.10,1126.39 L989.61,1126.39 L991.11,1126.40 L992.62,1126.40 L994.12,1126.41 L995.62,1126.41 L997.13,1126.42 L998.63,1126.43 L1000.14,1126.43 L1001.64,1126.43 L1003.15,1126.44 L1004.65,1126.44 L1006.16,1126.45 L1007.66,1126.45 L1009.17,1126.46 L1010.67,1126.46 L1012.18,1126.47 L1013.68,1126.47 L1015.19,1126.48 L1016.69,1126.48 L1018.20,1126.49 L1019.70,1126.49 L1021.21,1126.50 L1022.71,1126.50 L1024.22,1126.51 L1025.72,1126.51 L1027.23,1126.52 L1028.73,1126.52 L1030.24,1126.53 L1031.74,1126.54 L1033.25,1126.54 L1034.75,1126.55 L1036.26,1126.55 L1037.76,1126.56 L1039.27,1126.57 L1040.78,1126.57 L1042.28,1126.58 L1043.79,1126.59 L1045.29,1126.60 L1046.80,1126.60 L1048.30,1126.61 L1049.81,1126.62 L1051.32,1126.63 L1052.82,1126.64 L1054.33,1126.65 L1055.83,1126.66 L1057.34,1126.66 L1058.85,1126.67 L1060.35,1126.69 L1061.86,1126.70 L1063.37,1126.71 L1064.87,1126.72 L1066.38,1126.73 L1067.89,1126.74 L1069.39,1126.76 L1070.90,1126.77 L1072.41,1126.78 L1073.91,1126.80 L1075.42,1126.81 L1076.93,1126.82 L1078.43,1126.84 L1079.94,1126.86 L1081.45,1126.87 L1082.96,1126.89 L1084.46,1126.91 L1085.97,1126.92 L1087.48,1126.94 L1088.98,1126.96 L1090.49,1126.98 L1092.00,1127.00" stroke="#5e9120" fill="none" stroke-width="4.2" stroke-linejoin="round" stroke-linecap="round"/>
<line x1="266.4" y1="318.3" x2="266.4" y2="735.6" stroke="#6a6a6a" stroke-width="2.3" stroke-dasharray="5 5.05" stroke-dashoffset="-0.9"/>
<line x1="384.5" y1="318.3" x2="384.5" y2="735.6" stroke="#6a6a6a" stroke-width="2.3" stroke-dasharray="5 5.05" stroke-dashoffset="-0.9"/>
<line x1="502.5" y1="318.3" x2="502.5" y2="735.6" stroke="#6a6a6a" stroke-width="2.3" stroke-dasharray="5 5.05" stroke-dashoffset="-0.9"/>
<line x1="620.6" y1="318.3" x2="620.6" y2="735.6" stroke="#6a6a6a" stroke-width="2.3" stroke-dasharray="5 5.05" stroke-dashoffset="-0.9"/>
<line x1="266.4" y1="750.9" x2="266.4" y2="1169.2" stroke="#6a6a6a" stroke-width="2.3" stroke-dasharray="5 5.05" stroke-dashoffset="-0.9"/>
<line x1="384.5" y1="750.9" x2="384.5" y2="1169.2" stroke="#6a6a6a" stroke-width="2.3" stroke-dasharray="5 5.05" stroke-dashoffset="-0.9"/>
<line x1="502.5" y1="750.9" x2="502.5" y2="1169.2" stroke="#6a6a6a" stroke-width="2.3" stroke-dasharray="5 5.05" stroke-dashoffset="-0.9"/>
<line x1="620.6" y1="750.9" x2="620.6" y2="1169.2" stroke="#6a6a6a" stroke-width="2.3" stroke-dasharray="5 5.05" stroke-dashoffset="-0.9"/>
<rect x="148.2" y="3.8" width="983.4" height="298.5" fill="none" stroke="#000" stroke-width="2.8"/>
<rect x="148.2" y="318.3" width="983.4" height="417.3" fill="none" stroke="#000" stroke-width="2.8"/>
<rect x="148.2" y="750.9" width="983.4" height="418.3" fill="none" stroke="#000" stroke-width="2.8"/>
<text transform="translate(172.60,250.60) scale(1,1.06)" font-size="29.2">10 °C</text>
<text transform="translate(287.20,198.00) scale(1,1.06)" font-size="29.2">25 °C</text>
<text transform="translate(404.20,148.60) scale(1,1.06)" font-size="29.2">40 °C</text>
<text transform="translate(521.70,78.70) scale(1,1.06)" font-size="29.2">60 °C</text>
<text transform="translate(834.30,78.40) scale(1,1.06)" font-size="29.2">80 °C</text>
<rect x="641.4" y="163.3" width="465.1" height="105" fill="#fff" stroke="#3a3a3a" stroke-width="1.8"/>
<line x1="666.4" y1="195.5" x2="741.4" y2="195.5" stroke="#000" stroke-width="3.6"/>
<line x1="666.4" y1="237.5" x2="741.8" y2="237.5" stroke="#a80f1d" stroke-width="3.6"/>
<text x="751.30" y="207.00" font-size="34.2">Temperature set point</text>
<text x="751.30" y="248.50" font-size="34">Cell temperature</text>
<text transform="translate(639.00,642.70) scale(1,1.04)" font-size="32" fill="#0c1255">CO</text>
<text x="689.20" y="655.20" font-size="19" fill="#0c1255">2</text>
<text x="707.90" y="642.70" font-size="34.3" fill="#0c1255">(m/z = 44)</text>
<text transform="translate(831.10,904.90) scale(1,1.04)" font-size="32" fill="#0c1255">CO</text>
<text x="881.30" y="917.40" font-size="19" fill="#0c1255">2</text>
<text x="900.00" y="904.90" font-size="34.3" fill="#0c1255">(m/z = 44)</text>
<text transform="translate(803.30,468.00) scale(1,1.03)" font-size="33" fill="#5e9120">"POF</text>
<text x="884.80" y="479.20" font-size="18.5" fill="#5e9120">3</text>
<text x="896.30" y="468.00" font-size="33" fill="#5e9120">"</text>
<text x="802.20" y="518.00" font-size="34.4" fill="#5e9120">(m/z = 85)</text>
<text transform="translate(734.80,1045.70) scale(1,1.03)" font-size="33" fill="#5e9120">"POF</text>
<text x="816.30" y="1056.90" font-size="18.5" fill="#5e9120">3</text>
<text x="827.80" y="1045.70" font-size="33" fill="#5e9120">"</text>
<text x="733.70" y="1095.60" font-size="34.4" fill="#5e9120">(m/z = 85)</text>
</svg></body></html>
